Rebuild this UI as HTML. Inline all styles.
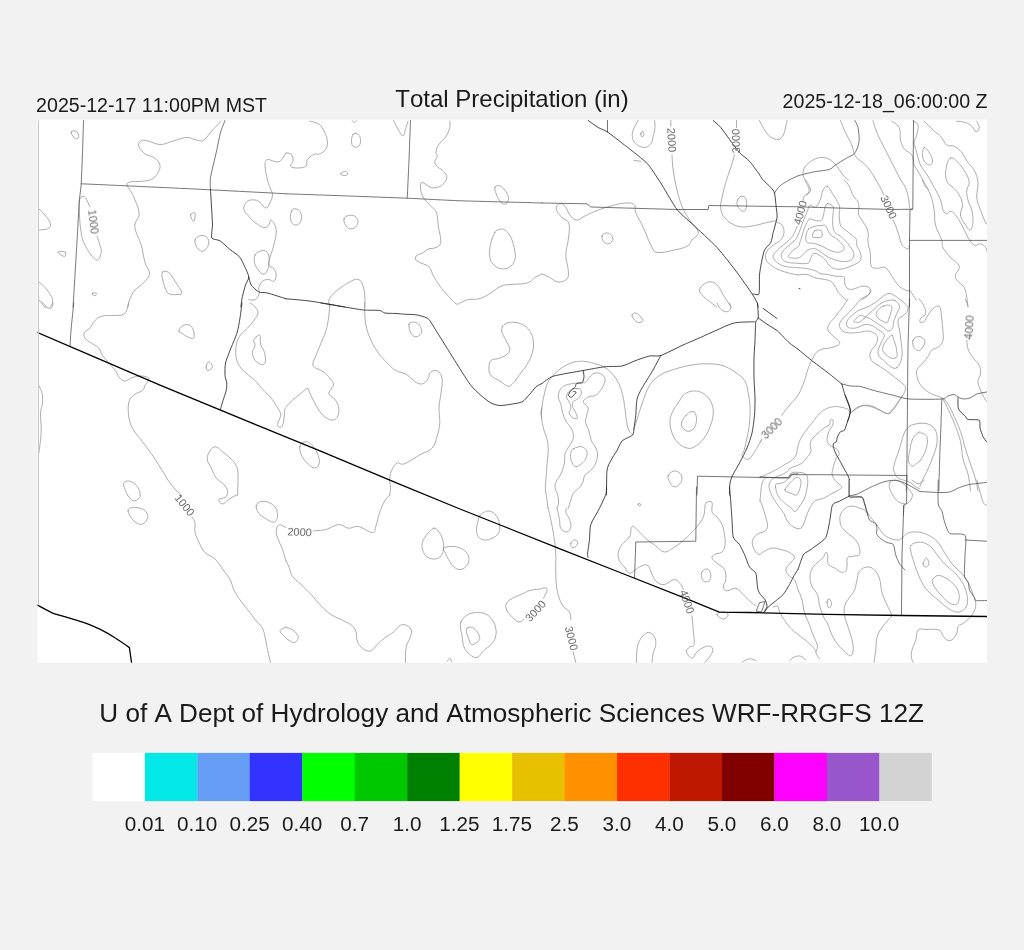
<!DOCTYPE html>
<html><head><meta charset="utf-8">
<style>
html,body{margin:0;padding:0;}
body{width:1024px;height:950px;background:#f2f2f2;overflow:hidden;position:relative;font-family:"Liberation Sans",sans-serif;color:#111;}
#map{position:absolute;left:0;top:0;width:1024px;height:950px;}
</style></head><body>
<svg id="map" width="1024" height="950" viewBox="0 0 1024 950" font-family="Liberation Sans, sans-serif">
<rect x="37.5" y="119.7" width="949.5" height="543" fill="#fff"/>
<defs><clipPath id="mc"><rect x="37.5" y="119.7" width="949.5" height="543"/></clipPath></defs>
<g clip-path="url(#mc)" fill="none" stroke-linejoin="round" stroke-linecap="round">
<path stroke="#8a8a8a" stroke-width="0.7" d="M71.2,132C71.9,131 74.8,130.4 76.2,131.2C77.8,132.1 78.8,134.8 78.8,136.2C78.8,137.8 77.4,138.8 76.2,138.8C75.1,138.8 74,137.6 73,136.2C72,134.9 70.6,133 71.2,132ZM221.2,121.2C219.5,123 216,126.2 212.5,130C209,133.8 207,138 203.8,140C200.5,142 199.8,140.5 196.2,140C192.8,139.5 191,137.2 186.2,137.5C181.5,137.8 177.8,139.8 172.5,141.2C167.2,142.7 165,144.6 160,144.5C155,144.4 151.2,141.5 147.5,140.8C143.8,140 143,139.7 141.2,140.8C139.5,141.8 138,143.7 138.8,146.2C139.5,148.8 142,151.5 145,153.8C148,156 150.8,155.5 153.8,157.5C156.7,159.5 158.5,161 159.5,163.8C160.5,166.5 160.2,168.2 158.8,171.2C157.3,174.2 155.8,176.8 152.5,178.8C149.2,180.8 147,180.6 142.5,181.2C138,181.9 133.1,181.2 130,182C126.9,182.8 127,183.4 127,185C127,186.6 128.4,187 130,190C131.6,193 133.2,195.2 135,200C136.8,204.8 139.2,209 139.2,213.8C139.2,218.5 135.6,220 135,223.8C134.4,227.5 135,228.2 136.2,232.5C137.5,236.8 139.5,239 141.2,245C143,251 143.3,256.8 145,262.5C146.7,268.2 149.8,269.8 149.5,273.8C149.2,277.8 146.7,279.2 143.8,282.5C140.8,285.8 137.8,286.8 135,290C132.2,293.2 131.5,295.4 130,298.8C128.5,302.1 128,305.4 127.5,307M97,236.2C97.6,238 99.2,241.8 100,245C100.8,248.2 101.8,249.5 101.2,252.5C100.8,255.5 99.5,259.5 97.5,260C95.5,260.5 94,258.5 91.2,255C88.5,251.5 85.8,247.5 83.8,242.5C81.7,237.5 81.6,235.5 80.8,230C79.9,224.5 79.8,220.5 79.5,215C79.2,209.5 78.9,206.1 79.2,202.5C79.6,198.9 80,197.9 81.2,197C82.5,196.1 83.8,196 85.5,198C87.2,200 89.1,205.2 90,207M38.8,208.8C40,210 42.6,212 45,215C47.4,218 50,221 50.5,223.8C51,226.5 49.9,227.5 47.5,228.8C45.1,230 40.5,229.8 38.8,230M58.2,252C59,251.4 63.6,251.2 65,252C66.3,252.8 65.8,255.7 65,256.2C64.2,256.9 62.6,255.8 61.2,255C59.9,254.2 57.5,252.6 58.2,252ZM38.8,282C40,283.1 42.5,284.6 45,287.5C47.5,290.4 49.8,293.2 51.2,296.2C52.8,299.2 52.8,300.4 52.5,302.5C52.2,304.6 50.5,306.1 50,307M38.8,300C39.8,300.8 42.2,302.4 43.8,303.8C45.2,305.1 45.8,306.4 46.2,307M92.5,293.2C93.2,292.9 95.7,292.8 96.2,293.2C96.8,293.7 96.2,295.1 95.5,295.5C94.8,295.9 93.6,295.4 93,295C92.4,294.6 91.8,293.6 92.5,293.2ZM190.5,215C190.8,213.3 194.3,211.8 195,213C195.7,214.2 194.7,220.8 193.8,221.2C192.8,221.7 190.2,216.7 190.5,215ZM195,240C195.6,237.7 197.8,236.4 200,235.8C202.2,235.1 204.5,235.4 206.2,236.8C208,238.1 208.8,240.1 208.8,242.5C208.8,244.9 207.6,247 206.2,248.8C204.9,250.5 203.8,251.5 202,251.2C200.2,251 198.4,249.8 197,247.5C195.6,245.2 194.4,242.3 195,240ZM162.5,272C163.8,270.8 166.2,270.6 168.8,272.5C171.2,274.4 172.4,277.2 175,281.2C177.6,285.2 181.2,289.9 181.8,292.5C182.2,295.1 180.1,294.2 177.5,294.5C174.9,294.8 171.2,295.1 168.8,293.8C166.2,292.4 166.2,290.5 165,287.5C163.8,284.5 163,281.9 162.5,278.8C162,275.6 161.2,273.2 162.5,272ZM286,153C284.8,154.7 282.4,159.6 280,161.2C277.6,162.9 276.2,161.6 273.8,161.2C271.2,160.9 269.2,158.8 267.5,159.5C265.8,160.2 265,160.9 265,165C265,169.1 266.5,175.5 267.5,180C268.5,184.5 269,184.5 270,187.5C271,190.5 272.5,192 272.5,195C272.5,198 271.2,199.9 270,202.5C268.8,205.1 268.2,208 266.2,208C264.2,208 262.2,204.1 260,202.5C257.8,200.9 257.5,200.2 255,200C252.5,199.8 249.8,199.5 247.5,201.2C245.2,203 243.5,205.8 243.8,208.8C244,211.8 246.5,213.5 248.8,216.2C251,219 252,220.2 255,222.5C258,224.8 261,227 263.8,227.5C266.5,228 267.2,226.5 268.8,225C270.2,223.5 269.8,219 271.2,220C272.8,221 275.8,225 276.2,230C276.8,235 275,239.5 273.8,245C272.5,250.5 271,253.5 270,257.5C269,261.5 268,262.8 268.8,265C269.5,267.2 272.2,266.8 273.8,268.8C275.2,270.8 276.2,272.5 276.2,275C276.2,277.5 275.2,280.4 273.8,281.2C272.2,282.1 271,279.5 268.8,279.5C266.5,279.5 264.5,279.6 262.5,281.2C260.5,282.9 259.4,285.4 258.8,287.5C258.1,289.6 259.4,291.1 259.5,292M255,255C256.1,252.8 257.8,252 260,251.2C262.2,250.5 264.4,249.8 266.2,251.2C268.1,252.8 269,255 269.2,258.8C269.5,262.5 268.8,266.9 267.5,270C266.2,273.1 265,274.5 263,274.2C261,274 259.2,271.1 257.5,268.8C255.8,266.4 255,265.2 254.5,262.5C254,259.8 253.9,257.2 255,255ZM248.8,299.5C249.8,299.6 252,300.4 253.8,300C255.5,299.6 256.4,299 257.5,297.5C258.6,296 259.1,293.5 259.5,292.5M309.8,121.2C311.5,121.8 315.8,122 318.5,123.8C321.2,125.5 321.8,126.8 323.5,130C325.2,133.2 326.8,136.2 327.2,140C327.8,143.8 327.5,146 326,148.8C324.5,151.5 322.2,152.6 319.8,153.8C317.2,154.9 316,153.2 313.5,154.5C311,155.8 308.8,157.7 307.2,160C305.8,162.3 308,164.7 306,166.2C304,167.8 300.4,168 297.2,168C294.1,168 291.4,167.6 290.5,166.2C289.6,164.9 292.8,163.6 293,161.2C293.2,158.9 292.9,156.2 291.5,154.5C290.1,152.8 287.1,153.3 286,153M352.2,120.5C352.6,120.9 353.4,122.5 354.2,122.5C355.1,122.5 356.2,120.9 356.8,120.5M353,134.5C354.1,133 355.8,132.9 357.2,133.8C358.8,134.6 360.1,136.4 360.5,138.8C360.9,141.1 360.6,143.9 359.2,145.5C357.9,147.1 355.1,147.6 353.5,146.8C351.9,145.9 351.6,143.7 351.5,141.2C351.4,138.8 351.9,136 353,134.5ZM340.5,173.8C340.8,172.9 344.1,171.2 345.5,171.2C346.9,171.3 348.1,173.4 347.8,174.2C347.4,175.1 345.4,175.6 344,175.5C342.6,175.4 340.2,174.6 340.5,173.8ZM393.5,120.5C394.5,122.4 396.6,127 398.5,130C400.4,133.1 401.5,136.2 403,135.8C404.5,135.2 405,130.4 406,127.5C407,124.6 407.6,122.5 408,121.2M449.8,121.2C449.8,122.5 450.5,124.5 449.8,127.5C449,130.5 448.2,132.8 446,136.2C443.8,139.8 440.5,141.8 438.5,145C436.5,148.2 436.2,150.2 436,152.5C435.8,154.8 437.5,154.2 437.2,156.2C437,158.2 434.5,160.2 434.8,162.5C435,164.8 436.8,165.8 438.5,167.5C440.2,169.2 441.9,169.2 443.5,171.2C445.1,173.2 446.8,175 446.8,177.5C446.8,180 445.1,181.8 443.5,183.8C441.9,185.7 441,186.2 438.5,187C436,187.8 434.2,188.4 431,187.5C427.8,186.6 424.4,182.5 422.2,182.5C420.1,182.5 420.5,185 420.5,187.5C420.5,190 421.1,192.2 422.2,195C423.4,197.8 423.8,198.5 426,201.2C428.2,204 431.4,206.2 433.5,208.8C435.6,211.2 435.8,210 436.8,213.8C437.8,217.5 437.8,222.8 438.5,227.5C439.2,232.2 440.2,234 440.5,237.5C440.8,241 441.1,242.8 439.8,245C438.4,247.2 435.8,247.5 433.5,248.2C431.2,249 430.8,247.8 428.5,248.8C426.2,249.8 424.5,252 422.2,253.2C420,254.5 418.6,253.8 417.2,255C415.9,256.2 415,257.8 415.5,259.2C416,260.8 417.6,261.4 419.8,262.5C421.9,263.6 423.9,263.8 426,265C428.1,266.2 429,266.5 430.5,268.8C432,271 431.4,272.5 433.5,276.2C435.6,280 438,283.5 441,287.5C444,291.5 445.5,293 448.5,296.2C451.5,299.5 453.5,302.5 456,303.8C458.5,305 458.5,303.4 461,302.5C463.5,301.6 465,300.2 468.5,299.5C472,298.8 474.5,299.8 478.5,298.8C482.5,297.8 484,297 488.5,294.5C493,292 496.5,288.2 501,286.2C505.5,284.2 505.8,285.1 511,284.5C516.2,283.9 522.5,284.4 527.2,283C532,281.6 531.8,279.2 534.8,277.5C537.7,275.8 540.5,274.9 542,274.2M494.8,187.5C495.2,185.4 497.8,185.2 499.8,185.8C501.8,186.2 503,187.7 504.8,190C506.5,192.3 508.2,194.8 508.5,197.5C508.8,200.2 507.5,202.8 506,203.8C504.5,204.8 502.8,204 501,202.5C499.2,201 498.5,199.2 497.2,196.2C496,193.2 494.2,189.6 494.8,187.5ZM291.5,211.2C292.4,209.2 293.1,208.8 294.8,208.8C296.4,208.8 298.4,209.5 299.8,211.2C301.1,213 301.6,215 301.5,217.5C301.4,220 300.6,222.3 299,223.8C297.4,225.2 295.2,225.5 293.5,224.5C291.8,223.5 290.9,221.4 290.5,218.8C290.1,216.1 290.6,213.2 291.5,211.2ZM344,218.8C344.6,216.8 346.4,216 348.5,215.5C350.6,215 352.9,215.1 354.8,216.2C356.6,217.4 357.9,219.1 358,221.2C358.1,223.4 357.1,225.5 355.5,227C353.9,228.5 351.8,229.2 349.8,228.8C347.8,228.3 346.6,227 345.5,225C344.4,223 343.4,220.7 344,218.8ZM494.8,232.5C496.6,229.4 497.8,230 499.8,229.5C501.8,229 502.5,228.4 504.8,230C507,231.6 509,233.2 511,237.5C513,241.8 514,246.8 514.8,251.2C515.5,255.8 515.8,256.9 514.8,260C513.8,263.1 512.2,265.2 509.8,267C507.2,268.8 505.2,269 502.2,268.8C499.2,268.5 497.2,268 494.8,265.8C492.2,263.5 490.6,261.6 489.8,257.5C488.9,253.3 489.5,250 490.5,245C491.5,240 492.9,235.6 494.8,232.5ZM329.8,307C329.6,305.6 328.2,302.6 329,300C329.8,297.4 331.1,296.2 333.5,293.8C335.9,291.2 337.8,289.9 341,287.5C344.2,285.1 346.5,283.6 349.8,282C353,280.4 354.8,278.9 357.2,279.2C359.8,279.6 360.8,280.6 362.2,283.8C363.8,286.9 364.2,290.4 364.8,295C365.2,299.6 364.8,304.6 364.8,307M602,236.2C602.4,234.4 604,233.3 605.8,233C607.5,232.7 609.4,233.2 610.8,234.5C612.1,235.8 613.1,237.7 612.8,239.5C612.4,241.3 610.8,243.2 609,243.8C607.2,244.2 605.4,243.5 604,242C602.6,240.5 601.6,238.1 602,236.2ZM638.2,120.5C637.2,122.4 634.4,126.6 633.2,130C632.1,133.4 632,134.8 632.5,137.5C633,140.2 633.4,141.8 635.8,143.8C638.1,145.8 641.5,147.5 644.5,147.5C647.5,147.5 649,146 650.8,143.8C652.5,141.5 652.4,139.5 653.2,136.2C654.1,133 654.8,130.7 655,127.5C655.2,124.3 654.6,121.9 654.5,120.5M640.8,133.8C640.9,132.6 641.9,131.1 642.5,131.2C643.1,131.4 643.9,133.3 643.8,134.5C643.6,135.7 642.6,137.2 642,137C641.4,136.8 640.6,134.9 640.8,133.8ZM634,160.5L640.8,161.2M670.8,120.5L670.8,126.2M672,155C672.2,158 672.2,163 673.2,170C674.2,177 675.2,182.8 677,190C678.8,197.2 679.5,200.2 682,206.2C684.5,212.2 686.2,214.8 689.5,220C692.8,225.2 697.8,228 698.2,232C698.8,236 694.2,237.2 692,240C689.8,242.8 690.5,244.2 687,246.2C683.5,248.2 680.2,248.8 674.5,250C668.8,251.2 662.8,253 658.2,252.5C653.8,252 655,252.5 652,247.5C649,242.5 646.5,234.5 643.2,227.5C640,220.5 637.5,217 635.8,212.5C634,208 636.2,206.9 634.5,205C632.8,203.1 631,203 627,203C623,203 620.5,203.5 614.5,205C608.5,206.5 603,208.2 597,210.5C591,212.8 588.5,214.3 584.5,216.2C580.5,218.2 579.8,220 577,220C574.2,220 573,218.8 570.8,216.2C568.5,213.8 567.5,210 565.8,207.5C564,205 563.6,204.2 562,203.8C560.4,203.2 558.6,203.8 557.5,205C556.4,206.2 555.6,207.5 556.5,210C557.4,212.5 559.5,214.8 562,217.5C564.5,220.2 567.8,219.2 569,223.8C570.2,228.2 568.9,233.8 568.2,240C567.6,246.2 565.8,249 565.8,255C565.8,261 568,265.2 568.2,270C568.5,274.8 569,276.4 567,278.8C565,281.1 561.8,282.2 558.2,282C554.8,281.8 552.8,279.1 549.5,277.5C546.2,275.9 543.5,274.5 542,273.8M736.5,120.5L736.5,127.5M734.5,155C733.8,157.5 732.5,162 730.8,167.5C729,173 727.5,176.5 725.8,182.5C724,188.5 723,192.2 722,197.5C721,202.8 720.2,204.8 720.8,208.8C721.2,212.8 722.2,214.5 724.5,217.5C726.8,220.5 728.5,221.8 732,223.8C735.5,225.7 737.5,226.7 742,227C746.5,227.3 749.5,226.4 754.5,225.5C759.5,224.6 762.5,223.5 767,222.5C771.5,221.5 775,220.9 777,220.5M738.2,198.8C739.2,197.2 740.5,196.2 742,196.2C743.5,196.2 744.9,196.8 745.8,198.8C746.6,200.8 746.9,203.8 746.5,206.2C746.1,208.8 745.4,210.8 744,211.2C742.6,211.8 740.9,210.2 739.5,208.8C738.1,207.2 737.2,205.8 737,203.8C736.8,201.8 737.2,200.2 738.2,198.8ZM759.5,120.5C760.5,122.4 762.2,126.7 764.5,130C766.8,133.3 768,135.1 770.8,137C773.5,138.9 775.8,139.9 778.2,139.5C780.8,139.1 781.8,137.7 783.2,135C784.8,132.3 785,129.2 785.8,126.2C786.5,123.3 786.8,121.7 787,120.5M730.8,307C730.2,306.1 729.8,304.9 728.2,302.5C726.8,300.1 725.2,298.2 723.2,295C721.2,291.8 720.5,288.9 718.2,286.2C716,283.6 714.8,282.5 712,282C709.2,281.5 707,282.1 704.5,283.8C702,285.4 699.8,287.5 699.5,290C699.2,292.5 701,293.8 703.2,296.2C705.5,298.8 708,300.4 710.8,302.5C713.5,304.6 715.8,306.1 717,307M777,222.5C778,223 780.6,223 782,225C783.4,227 784.2,229.5 784,232.5C783.8,235.5 782.9,237.5 780.8,240C778.6,242.5 776,242.8 773.2,245C770.5,247.2 768.5,248.5 767,251.2C765.5,254 765,256 765.8,258.8C766.5,261.5 768,262.8 770.8,265C773.5,267.2 775.8,268.4 779.5,270C783.2,271.6 785.8,272.2 789.5,273.2C793.2,274.2 796.3,274.6 798,275M814.5,231C816.1,230 819.4,229.4 820.9,230.5C822.3,231.6 823.1,235.2 821.7,236.6C820.3,238 815.6,237.6 813.8,237.4C811.9,237.2 812.4,236.9 812.5,235.6C812.7,234.3 812.8,232.1 814.5,231ZM808.7,229C810.1,227.8 811.3,227.2 813.8,226.5C816.2,225.8 818.5,225.6 820.9,225.5C823.2,225.3 824,224.6 825.4,225.7C826.9,226.7 826.9,228.6 828,230.5C829.1,232.4 829.2,233.4 831,235.1C832.9,236.8 834.9,237.3 837.1,239.2C839.4,241 840.8,242.3 842.2,244.2C843.6,246.2 844.4,247.4 844.2,248.8C844,250.2 842.6,250.7 841.2,251.4C839.8,252 839.2,252.3 837.1,252.2C835.1,252.1 833.5,251.7 831,250.8C828.6,250 827.4,249 824.9,247.8C822.5,246.6 821.3,245.7 818.8,244.8C816.4,243.8 815,243.6 812.8,243.2C810.5,242.8 809.1,243.6 807.7,242.7C806.3,241.8 806,240.7 805.8,238.7C805.6,236.6 806.1,234.5 806.7,232.6C807.2,230.6 807.3,230.2 808.7,229ZM827.5,203.6C825.9,203.8 825.6,205.8 824.9,207.7C824.2,209.6 824.4,211 823.9,213.3C823.4,215.5 823.2,217.3 822.4,218.9C821.6,220.4 821.4,220.6 819.9,220.9C818.3,221.2 816.8,220.8 814.8,220.4C812.8,220 811.1,218.6 809.7,218.9C808.3,219.1 808.7,219.7 807.7,221.4C806.7,223.1 805.7,224.6 804.6,227.5C803.5,230.3 803,232.8 802.1,235.6C801.2,238.5 800.8,239.6 800.1,241.7C799.3,243.8 799.9,244.6 798.5,246.3C797.2,247.9 795.3,248.2 793.5,249.8C791.6,251.5 790.4,253 789.4,254.4C788.4,255.8 788,256.2 788.4,256.9C788.8,257.6 789.4,257.8 791.4,258C793.5,258.1 796.3,258.4 798.5,257.8C800.8,257.1 801,256.3 802.6,254.9C804.2,253.5 804.8,252.1 806.7,250.8C808.5,249.6 809.9,249.2 811.7,248.8C813.6,248.4 814,248.4 815.8,249C817.6,249.6 818.8,250.5 820.9,251.9C822.9,253.2 823.9,254.6 826,255.9C828,257.2 828.8,257.5 831,258.5C833.3,259.4 834.5,259.9 837.1,260.5C839.8,261.1 841.6,261.5 844.2,261.5C846.9,261.5 848.5,261.4 850.3,260.5C852.2,259.6 852.8,258.6 853.4,256.9C854,255.3 854,254.4 853.4,252.4C852.8,250.3 852,249.1 850.3,246.8C848.7,244.4 847.3,242.8 845.3,240.7C843.2,238.6 842.2,237.7 840.2,236.1C838.1,234.5 836.5,234.3 835.1,232.6C833.7,230.8 833.6,229.9 833.1,227.5C832.6,225 832.6,223.2 832.6,220.4C832.6,217.5 833,216 833.1,213.3C833.2,210.5 834.2,208.6 833.1,206.7C831.9,204.7 829.1,203.4 827.5,203.6ZM827.4,186.2C825.2,185.3 823.9,189 822.7,190.9C821.5,192.9 822.1,193.9 821.4,196C820.7,198.1 820.6,199.3 819.4,201.6C818.1,203.9 817.1,206.7 815.3,207.4C813.5,208.1 811.7,204.6 810.2,205.1C808.7,205.7 808.6,208.2 807.7,210.2C806.8,212.3 806.6,213.1 805.6,215.3C804.7,217.5 804.1,218.8 803.1,221.4C802.1,224 801.7,225.6 800.6,228.5C799.4,231.4 798.7,233.7 797.5,236.1C796.3,238.6 796.3,238.8 794.5,240.7C792.6,242.6 790.6,243.7 788.4,245.8C786.1,247.8 784.7,248.9 783.3,250.8C781.9,252.8 781.5,253.8 781.3,255.4C781.1,257 781.3,257.6 782.3,259C783.3,260.3 783.9,261.2 786.3,262C788.8,262.8 790.2,262.8 794.5,263C798.7,263.3 804.4,264.3 807.7,263.2C810.9,262.2 809.5,259.9 810.7,258C811.9,256 812.1,254 813.8,253.4C815.4,252.8 816.6,253.7 818.8,254.9C821.1,256.1 822.9,257.4 824.9,259.5C827,261.5 827.2,263.2 829,265.1C830.8,266.9 831.6,267.8 834.1,268.6C836.5,269.4 838.3,269.4 841.2,269.1C844,268.8 845.5,268.1 848.3,267.1C851.1,266.1 853.1,265.3 855.4,264C857.7,262.8 858.9,262.6 860,261C861.1,259.4 861.1,258 861,255.9C860.9,253.9 860.3,252.9 859.5,250.8C858.7,248.8 857.5,248 856.9,245.8C856.3,243.5 857.3,241.7 856.4,239.7C855.5,237.6 854.4,237.4 852.4,235.6C850.3,233.8 848.5,232.4 846.3,230.5C844,228.7 842.5,228.3 841.2,226.5C839.9,224.6 840.1,223.8 839.7,221.4C839.3,219 839.2,217.1 839.2,214.3C839.2,211.4 840.1,209.8 839.7,207.2C839.3,204.5 838.2,203.3 837.1,201.1C836,198.8 834.8,197.1 834.1,196C833.4,194.9 834.9,197.5 833.6,195.6C832.2,193.6 829.5,187.2 827.4,186.2ZM797,226.5C796.3,228.1 795,232 793.5,234.6C791.9,237.2 791.6,237.4 789.4,239.7C787.2,241.9 784.9,243.4 782.3,245.8C779.6,248.1 778,249.3 776.2,251.4C774.4,253.4 773.4,254.2 773.1,255.9C772.8,257.6 773.4,258.4 774.7,260C775.9,261.6 776.9,262.7 779.2,264C781.6,265.4 782.9,265.9 786.3,266.6C789.8,267.3 792.4,267.2 796.5,267.6C800.6,268 803,268 806.7,268.6C810.3,269.2 811.9,269.6 814.8,270.6C817.6,271.7 819.7,273.3 820.9,274M798,275C799.8,274.9 803.7,274 807.1,274.5C810.4,275.1 810.8,276.6 814.9,277.7C818.9,278.8 823.9,279.1 827.4,280C830.8,280.9 830.3,280.8 832.1,282.3C833.8,283.9 834.7,285.8 836,287.8C837.2,289.8 836.9,290.6 838.3,292.5C839.7,294.4 841.4,295.7 843,297.2C844.6,298.7 845.5,299.4 846.1,300M820.8,273.9C822.1,274 824.5,274.1 827.4,274.5C830.2,275 831.9,275.6 835.2,276.1C838.5,276.6 841.9,275.8 843.8,276.9C845.7,278 844.1,279.5 844.6,281.6C845,283.6 844.9,285.5 846.1,287C847.4,288.6 848.6,289.2 850.8,289.4C853,289.5 854.9,288.4 857.1,287.8C859.2,287.2 859.6,286.4 861.8,286.2C863.9,286.1 866.3,286.2 868,287C869.7,287.8 870.3,288.4 870.3,290.2C870.3,291.9 869.7,293.8 868,295.6C866.3,297.5 863,298.8 861.8,299.5M802.7,201.1C803.1,200 803.2,197.5 804.7,195.6C806.2,193.8 809.2,193.6 810.2,191.7C811.1,189.8 810.3,188.6 809.4,186.2C808.5,183.9 806.3,181.2 805.5,180M844.6,180C845.5,181.2 847.5,183.1 849.2,186.2C851,189.4 851.3,192.2 853.2,195.6C855,199.1 857.5,199.7 858.6,203.4C859.7,207.2 857.7,210.6 858.6,214.4C859.6,218.1 861.4,218.8 863.3,222.2C865.2,225.6 867.1,227.5 868,231.6C868.9,235.6 867.5,238.1 868,242.5C868.5,246.9 869.7,248.8 870.3,253.4C871,258.1 869.7,263 871.1,265.9C872.5,268.9 874.6,268 877.4,268.3C880.2,268.6 882.4,266.1 885.2,267.5C888,268.9 888.9,271.9 891.4,275.3C893.9,278.8 895.2,281.9 897.7,284.7C900.2,287.5 901.6,288.1 903.9,289.4C906.3,290.6 908.3,290.6 909.4,290.9M875.8,180C876.8,181.6 878.9,184.8 880.5,187.8C882.1,190.8 883,193.4 883.6,194.8M893,219.8C893.6,221.2 894.9,223.6 896.1,226.9C897.4,230.2 898.2,232.8 899.2,236.2C900.3,239.7 900.3,241.7 901.6,244.1C902.8,246.4 904.1,247 905.5,248C906.9,248.9 907.8,249.2 908.6,248.8C909.4,248.3 909.2,246.2 909.4,245.6M900.8,180C901.8,181.6 903.9,184.1 905.5,187.8C907.1,191.6 907.8,194.7 908.6,198.8C909.4,202.8 909.2,206.2 909.4,208.1M909.4,289.4C910.2,290.6 911.9,293.5 913.3,295.6C914.7,297.8 915.8,299.1 916.4,300M922.7,180C923,180.9 923.2,182.8 924.2,184.7C925.3,186.6 927.2,188.4 928,189.4M806.8,195C807.2,194 809.5,192.8 809.2,190C809,187.2 806.8,184.5 805.5,181.2C804.2,178 803,176.8 803,173.8C803,170.8 803.5,169 805.5,166.2C807.5,163.5 809.8,161.8 813,160C816.2,158.2 818.2,157.5 821.8,157.5C825.2,157.5 827.5,158.2 830.5,160C833.5,161.8 834.2,163.2 836.8,166.2C839.2,169.2 840.6,172.2 843,175C845.4,177.8 847.4,179 848.5,180M840.5,120.5C841.5,122.9 843.2,127.6 845.5,132.5C847.8,137.4 849.8,140.2 851.8,145C853.8,149.8 852.8,152.2 855.5,156.2C858.2,160.2 862,161.2 865.5,165C869,168.8 871,172 873,175C875,178 875.2,179 875.8,180M873,120.5C873.8,122.9 874.5,127.1 876.8,132.5C879,137.9 881,141 884.2,147.5C887.5,154 889.7,158.5 893,165C896.3,171.5 899.2,177 900.8,180M891.8,121.2C893.2,122.5 897.5,123.8 899.2,127.5C901,131.2 899.5,135.8 900.5,140C901.5,144.2 902,145.8 904.2,148.8C906.5,151.8 909.8,151.8 911.8,155C913.8,158.2 913,161.8 914.2,165C915.5,168.2 916,167.8 918,171.2C920,174.8 921.8,177.8 924.2,182.5C926.8,187.2 928.5,189.5 930.5,195C932.5,200.5 933.2,204 934.2,210C935.2,216 934,219 935.5,225C937,231 940.2,235.5 941.8,240C943.2,244.5 941.2,244 943,247.5C944.8,251 947.2,253.8 950.5,257.5C953.8,261.2 958.2,262.8 959.2,266.2C960.2,269.8 956,272.2 955.5,275C955,277.8 955,277.5 956.8,280C958.5,282.5 962.2,284 964.2,287.5C966.2,291 966,293.6 966.8,297.5C967.5,301.4 967.8,305.1 968,307M913,121.2C914,122 917.2,122.2 918,125C918.8,127.8 917.5,131.5 916.8,135C916,138.5 914.2,139 914.2,142.5C914.2,146 915.5,148 916.8,152.5C918,157 918.2,160.2 920.5,165C922.8,169.8 925.2,171.8 928,176.2C930.8,180.8 931.8,182.8 934.2,187.5C936.8,192.2 938.8,195.5 940.5,200C942.2,204.5 941.8,207.2 943,210C944.2,212.8 945.2,213.5 946.8,213.8C948.2,214 948.8,211 950.5,211.2C952.2,211.5 953.2,212.2 955.5,215C957.8,217.8 959.2,220.5 961.8,225C964.2,229.5 965.5,233.5 968,237.5C970.5,241.5 971.8,243.8 974.2,245C976.8,246.2 978.2,243.2 980.5,243.8C982.8,244.2 984.2,246 985.5,247.5C986.8,249 986.5,250.5 986.8,251.2M924.2,121.2C926,123 929.8,127 933,130C936.2,133 937.8,133.2 940.5,136.2C943.2,139.2 944,143 946.8,145C949.5,147 951.2,144.8 954.2,146.2C957.2,147.8 959,149.2 961.8,152.5C964.5,155.8 965.5,159 968,162.5C970.5,166 972.2,166 974.2,170C976.2,174 977.5,177 978,182.5C978.5,188 976.2,192 976.8,197.5C977.2,203 978.8,205 980.5,210C982.2,215 984.2,219.8 985.5,222.5C986.8,225.2 986.5,223.5 986.8,223.8M956.8,121.2C958.5,121.5 962.5,121.5 965.5,122.5C968.5,123.5 969.6,124.4 971.8,126.2C973.9,128.1 974.5,131.5 976,131.8C977.5,132 979.1,129.6 979.2,127.5C979.4,125.4 977.2,122.5 976.8,121.2M924.2,147.5C925.6,146.8 927.6,150 929.2,152.5C930.9,155 932.2,157.5 932.5,160C932.8,162.5 931.9,164.5 930.5,165C929.1,165.5 927.1,164.2 925.5,162.5C923.9,160.8 922.8,159.2 922.5,156.2C922.2,153.2 922.9,148.2 924.2,147.5ZM950.5,158C952.9,156.8 955,159.6 958,162.5C961,165.4 963.2,168.5 965.5,172.5C967.8,176.5 969,179 969.2,182.5C969.5,186 967,186.5 966.8,190C966.5,193.5 967,196 968,200C969,204 970.8,205.8 971.8,210C972.8,214.2 973.2,217.2 973,221.2C972.8,225.2 972,229.2 970.5,230C969,230.8 967.5,228 965.5,225C963.5,222 961.1,219 960.5,215C959.9,211 962.8,209 962.5,205C962.2,201 961.1,198.5 959.2,195C957.4,191.5 955.5,190.2 953,187.5C950.5,184.8 948.1,185 946.8,181.2C945.4,177.5 945.2,173.4 946,168.8C946.8,164.1 948.1,159.2 950.5,158ZM41.2,303C42,303.8 43,305.8 45,306.8C47,307.8 49.6,308.8 51.2,308C52.9,307.2 52.6,304 53,303M128.8,303C128.5,304 128.5,305.8 127.5,308C126.5,310.2 126.2,312.8 123.8,314.2C121.2,315.8 119.2,315.1 115,315.5C110.8,315.9 106.5,315 102.5,316C98.5,317 97.5,318.1 95,320.5C92.5,322.9 92.1,325.6 90,328C87.9,330.4 85.5,330.5 84.5,332.5C83.5,334.5 83.7,335.9 85,338C86.3,340.1 88.5,341 91.2,343C94,345 96.5,345.5 98.8,348C101,350.5 100.2,352.2 102.5,355.5C104.8,358.8 107.2,361 110,364.2C112.8,367.5 114.5,369.2 116.2,371.8C118,374.2 117.1,374.9 118.8,376.8C120.4,378.6 121.8,380.9 124.5,381C127.2,381.1 129.4,378.5 132.5,377.5C135.6,376.5 137.2,376.1 140,376C142.8,375.9 144.5,376.1 146.2,376.8C148,377.4 149,377.5 148.8,379.2C148.5,381 146.2,383.2 145,385.5C143.8,387.8 144.5,388.8 142.5,390.5C140.5,392.2 137.5,392.5 135,394.2C132.5,396 131.3,396.5 130,399.2C128.7,402 128.3,403.8 128.2,408C128.2,412.2 128.4,416 129.5,420.5C130.6,425 131.2,426.2 133.8,430.5C136.3,434.8 139.2,437.5 142.5,441.8C145.8,446 147,447.5 150,451.8C153,456 154.8,458.8 157.5,463C160.2,467.2 161.2,469 163.8,473C166.2,477 167.2,479.2 170,483C172.8,486.8 175.2,489.4 177.5,491.8C179.8,494.1 180.5,494.4 181.2,495M178.8,331C178.8,329.5 180.5,327.2 182.5,326C184.5,324.8 186.7,324.1 188.8,324.8C190.8,325.4 192,326.6 193,329.2C194,331.9 194.8,336.5 193.8,338C192.7,339.5 189.8,337.6 187.5,336.8C185.2,335.9 184.2,334.6 182.5,333.5C180.8,332.4 178.8,332.5 178.8,331ZM206.2,366.8C206.4,365 207.5,361.8 208.8,361.8C210,361.8 212.7,365 212.5,366.8C212.3,368.5 209.2,370.5 208,370.5C206.8,370.5 206.1,368.5 206.2,366.8ZM250,303C251,303.8 253.4,304.8 255,306.8C256.6,308.8 258.2,310.2 258,313C257.8,315.8 255.8,317.5 253.8,320.5C251.7,323.5 250.2,325 247.5,328C244.8,331 242.2,332 240,335.5C237.8,339 237,341 236.2,345.5C235.5,350 235.5,353.8 236.2,358C237,362.2 237.8,363.5 240,366.8C242.2,370 244.5,371.5 247.5,374.2C250.5,377 252,377.5 255,380.5C258,383.5 259.5,386 262.5,389.2C265.5,392.5 267.2,393.5 270,396.8C272.8,400 274.1,402 276.2,405.5C278.4,409 280.2,411.2 280.8,414.2C281.2,417.2 279.4,418.2 278.8,420.5C278.1,422.8 277,424.1 277.5,425.5C278,426.9 280,428.2 281.2,427.2C282.5,426.2 283.1,423.9 283.8,420.5C284.4,417.1 284.1,413 284.5,410.5C284.9,408 285.7,408.5 286,408M256.2,336.8C257.5,335.8 259.1,334 260,335.5C260.9,337 259.8,341.2 260.5,344.2C261.2,347.2 262.8,347.5 263.8,350.5C264.8,353.5 265.5,356.5 265.5,359.2C265.5,362 265.2,363.5 263.8,364.2C262.2,365 260,364.2 258,363C256,361.8 254.8,360.2 253.8,358C252.7,355.8 252.2,354.2 252.5,351.8C252.8,349.2 254.8,347.8 255,345.5C255.2,343.2 253.5,342.2 253.8,340.5C254,338.8 255,337.8 256.2,336.8ZM38.8,385.5C39.4,387 41.2,389.5 42,393C42.8,396.5 42.8,399 42.5,403C42.2,407 40.8,408 40.5,413C40.2,418 41.2,422.5 41.2,428C41.2,433.5 41,435.5 40.5,440.5C40,445.5 39.1,450.5 38.8,453M237.5,495C237.6,491.1 238.2,481.4 238,475.5C237.8,469.6 237.8,469 236.2,465.5C234.7,462 232.8,460.8 230,458C227.2,455.2 225.5,454 222.5,451.8C219.5,449.5 217.8,446.5 215,446.8C212.2,447 210.2,450.2 208.8,453C207.2,455.8 207,457.5 207.5,460.5C208,463.5 209.5,464.5 211.2,468C213,471.5 213.8,474.8 216.2,478C218.8,481.2 221.5,481.8 223.8,484.2C226,486.8 226.8,488.4 227.5,490.5C228.2,492.6 227.1,494.1 227,495M140,495C139.9,494.1 140.5,492.6 139.5,490.5C138.5,488.4 137.2,486.1 135,484.2C132.8,482.4 131,481.2 128.8,481C126.5,480.8 124.5,481.4 123.8,483C123,484.6 124.2,486.9 125,489.2C125.8,491.6 127,493.9 127.5,495M329.8,305.5C329.5,308 329.2,313 328.5,318C327.8,323 327.5,325.5 326,330.5C324.5,335.5 323,338 321,343C319,348 317.6,351.5 316,355.5C314.4,359.5 313.2,360.6 313,363C312.8,365.4 312.6,365.8 314.8,367.5C316.9,369.2 320.5,369.6 323.5,371.8C326.5,373.9 327.8,375.5 329.8,378C331.8,380.5 333.2,382 333.5,384.2C333.8,386.5 331.9,387.2 331,389.2C330.1,391.2 328.2,392.2 329,394.2C329.8,396.2 332.9,396.8 334.8,399.2C336.6,401.8 337.9,403.5 338.5,406.8C339.1,410 339,412.9 338,415.5C337,418.1 335.6,419.4 333.5,420C331.4,420.6 329.8,419.9 327.2,418.5C324.8,417.1 323.5,416.1 321,413C318.5,409.9 317,407 314.8,403C312.5,399 311.2,395.9 309.8,393C308.2,390.1 309.2,388.2 307.2,388.5C305.2,388.8 302.8,391.9 299.8,394.2C296.8,396.6 295,398 292.2,400.5C289.5,403 287.2,405.5 286,406.8M364.8,303C364.8,305 364.5,308.5 364.8,313C365,317.5 364.8,320 366,325.5C367.2,331 368.5,335 371,340.5C373.5,346 375,348.2 378.5,353C382,357.8 385,360.8 388.5,364.2C392,367.8 392.5,368.5 396,370.5C399.5,372.5 402.8,372.5 406,374.2C409.2,376 410,377.5 412.2,379.2C414.5,381 415,382.1 417.2,383C419.5,383.9 421.2,384.5 423.5,383.5C425.8,382.5 427.2,380.1 428.5,378C429.8,375.9 428.5,374.5 429.8,373C431,371.5 432.8,370.5 434.8,370.5C436.8,370.5 438.2,371 439.8,373C441.2,375 442,376.5 442.2,380.5C442.5,384.5 441.6,387.5 441,393C440.4,398.5 439.2,402 439,408C438.8,414 440.1,417.5 439.8,423C439.4,428.5 438.8,430.5 437.2,435.5C435.8,440.5 435.5,444.2 432.2,448C429,451.8 425.8,451.5 421,454.2C416.2,457 412.2,459.8 408.5,461.8C404.8,463.8 404.5,464 402.2,464.2C400,464.5 399.2,462 397.2,463C395.2,464 393.8,466.2 392.2,469.2C390.8,472.2 390.1,474.2 389.8,478C389.4,481.8 390.5,484.6 390.5,488C390.5,491.4 389.9,493.6 389.8,495M409,324.2C409.4,322.2 410.6,322.5 412.2,322.2C413.9,322 415.5,321.9 417.2,323C419,324.1 420.2,325.9 421,328C421.8,330.1 422.1,331.8 421,333.5C419.9,335.2 417.6,336.9 415.5,336.8C413.4,336.6 411.8,335 410.5,332.5C409.2,330 408.6,326.3 409,324.2ZM502.2,326.8C503.2,324.8 504.5,323.9 507.2,323C510,322.1 512.5,321.9 516,322.5C519.5,323.1 521.8,323.9 524.8,326C527.8,328.1 529.2,329.6 531,333C532.8,336.4 533.2,339 533.5,343C533.8,347 533.5,348.8 532.2,353C531,357.2 529.8,360 527.2,364.2C524.8,368.5 522.8,370.2 519.8,374.2C516.8,378.2 514.8,381.9 512.2,384.2C509.8,386.6 509.5,386.5 507.2,386C505,385.5 504.2,383.9 501,381.8C497.8,379.6 493.4,378.2 491,375.5C488.6,372.8 489,371 489,368C489,365 489.1,362.4 491,360.5C492.9,358.6 495.5,359.6 498.5,358.5C501.5,357.4 503.8,356.9 506,355C508.2,353.1 509.8,352.1 509.8,349.2C509.8,346.4 507.5,343.8 506,340.5C504.5,337.2 503,335.8 502.2,333C501.5,330.2 501.2,328.8 502.2,326.8ZM299.8,446.8C300.2,443.8 302.5,442.2 304.8,441.8C307,441.2 308.5,442 311,444.2C313.5,446.5 315.6,449.2 317.2,453C318.9,456.8 319.8,460 319.2,463C318.8,466 316.9,467.8 314.8,468C312.6,468.2 311,466.5 308.5,464.2C306,462 304,460.2 302.2,456.8C300.5,453.2 299.2,449.8 299.8,446.8ZM542,408C541.8,409 540.8,411 540.8,413C540.8,415 541.8,417 542,418M717,303C717.8,304.2 718.8,307.5 720.8,309.2C722.8,311 725,312 727,311.8C729,311.5 730.2,309.8 730.8,308C731.2,306.2 729.8,304 729.5,303M632,315C632.4,313.8 634,312.6 635.8,313C637.5,313.4 639.4,315.1 640.8,316.8C642.1,318.4 643.2,319.9 642.8,321C642.2,322.1 640,322.9 638.2,322.5C636.5,322.1 635.2,320.8 634,319.2C632.8,317.8 631.6,316.2 632,315ZM634,429.2C634.9,426.5 636.4,421.2 638.2,415.5C640.1,409.8 641,406.5 643.2,400.5C645.5,394.5 646.2,390.5 649.5,385.5C652.8,380.5 654.5,378.8 659.5,375.5C664.5,372.2 668,371.4 674.5,369.2C681,367.1 685.5,366.1 692,365C698.5,363.9 701,363.6 707,363.8C713,363.9 716.5,363.9 722,365.5C727.5,367.1 730,368.8 734.5,371.8C739,374.8 741.8,376.2 744.5,380.5C747.2,384.8 747.1,387.5 748.2,393C749.4,398.5 749.8,402 750,408C750.2,414 750.1,417 749.5,423C748.9,429 748.1,432.5 747,438C745.9,443.5 745,447 744,450.5C743,454 741.1,453.8 742,455.5C742.9,457.2 745.8,460 748.2,459.2C750.8,458.5 751.8,455.8 754.5,451.8C757.2,447.8 760.5,441.8 762,439.2M678.2,403C680.5,399.8 681.2,396.6 684.5,394.2C687.8,391.9 690.5,391 694.5,391C698.5,391 701.1,391.9 704.5,394.2C707.9,396.6 709.8,399 711.5,403C713.2,407 713.6,409.2 713.2,414.2C712.9,419.2 711.5,423 709.5,428C707.5,433 706.2,435.5 703.2,439.2C700.2,443 697.8,445 694.5,446.8C691.2,448.5 690.2,448.8 687,448C683.8,447.2 681.2,446 678.2,443C675.2,440 673.6,437.5 672,433C670.4,428.5 669.8,425 670,420.5C670.2,416 671.6,414 673.2,410.5C674.9,407 676,406.2 678.2,403ZM685.8,415.5C687.6,413.2 688.9,412.2 690.8,411.8C692.6,411.2 693.9,411.2 695,413C696.1,414.8 696.7,417.5 696.5,420.5C696.3,423.5 695.4,425.9 694,428C692.6,430.1 691.5,431 689.5,431.2C687.5,431.5 685.6,430.9 684,429.2C682.4,427.6 681.1,425.8 681.5,423C681.9,420.2 683.9,417.8 685.8,415.5ZM668.2,475.5C669,473.4 671.1,471.9 673.2,471.2C675.4,470.6 677.2,471.1 679,472.5C680.8,473.9 681.9,475.6 682,478C682.1,480.4 681.1,482.5 679.5,484.2C677.9,486 676,487.2 674,486.8C672,486.2 670.6,484 669.5,481.8C668.4,479.5 667.5,477.6 668.2,475.5ZM633,435C632.2,434.1 630.4,433.3 629.2,430.9C627.9,428.4 627.5,426.9 626.7,422.6C625.9,418.4 625.9,415.1 625.1,409.5C624.2,403.9 623.9,400 622.6,394.7C621.3,389.5 620.6,387.5 618.5,383.2C616.4,378.9 614.9,376.6 611.9,373.4C609,370.1 607.3,368.8 603.7,366.8C600.1,364.8 597.5,364.6 593.9,363.5C590.2,362.4 588.9,361.9 585.6,361.5C582.4,361.1 580.7,361.1 577.4,361.5C574.1,362 572.5,362.4 569.2,363.8C565.9,365.2 564.1,366.2 561,368.4C557.9,370.7 556.2,372.2 553.6,375C551,377.8 549.7,378.8 547.9,382.4C546,386 545.7,388.3 544.6,393.1C543.4,397.8 542.7,401.3 542.1,406.2C541.5,411.1 541.3,413.1 541.6,417.7C541.9,422.3 542.7,424.9 543.7,429.2C544.8,433.5 546.1,434.8 547,439.1C547.9,443.3 548.2,445.6 548.2,450.6C548.2,455.5 547.4,458.5 547,463.7C546.6,469 546.5,471.9 546.2,476.9C545.9,481.8 545.2,483.8 545.4,488.4C545.6,493 546.5,495.9 547,499.9C547.5,503.8 547.7,506.4 547.9,508.1M568.4,508.1C568.9,506.4 569.9,502.8 570.9,499.9C571.8,496.9 571.8,495.6 573.3,493.3C574.8,491 576.4,490.3 578.2,488.4C580.1,486.4 581,486.1 582.4,483.4C583.7,480.8 583.5,477.5 584.8,475.2C586.1,472.9 587,473.9 588.9,471.9C590.9,470 593,468.6 594.7,465.4C596.4,462.1 597.3,459.1 597.5,455.5C597.6,451.9 596.7,450.2 595.5,447.3C594.3,444.3 592.7,444 591.4,440.7C590.1,437.4 590.1,434.5 588.9,430.9C587.8,427.2 586.1,425.6 585.6,422.6C585.1,419.7 586,419 586.5,416.1C587,413.1 588.8,410.6 588.1,407.9C587.4,405.1 583.7,403.9 583.2,402.1C582.7,400.3 584.3,400 585.6,398.8C587,397.7 587.8,397 589.7,396.4C591.7,395.7 593.4,396.7 595.5,395.5C597.6,394.4 598.8,392.7 600.4,390.6C602.1,388.5 602.8,387.2 603.7,384.9C604.6,382.6 605.5,381.2 605,379.1C604.5,377 603.2,375.4 601.2,374.2C599.3,373 597.6,372.7 595.5,373C593.4,373.4 592.4,374.1 590.6,375.8C588.8,377.5 588.1,380.2 586.5,381.6C584.8,383 584.5,382.6 582.4,382.9C580.2,383.2 578.7,382.9 575.8,383.2C572.8,383.5 570.2,383.8 567.6,384.5C564.9,385.3 564.3,385.4 562.6,386.8C561,388.2 560.2,389.2 559.4,391.4C558.5,393.7 558.2,395.4 558.5,398C558.9,400.6 560.2,401.6 561,404.6C561.8,407.5 561.7,409.5 562.6,412.8C563.6,416.1 564.3,418 565.9,421C567.6,424 569.4,424.9 570.9,427.6C572.3,430.2 573,431.5 573.3,434.1C573.6,436.8 573.5,438.1 572.5,440.7C571.5,443.3 569.9,444.7 568.4,447.3C566.9,449.9 565.9,450.6 565.1,453.9C564.3,457.1 565.1,459.8 564.3,463.7C563.5,467.7 562.6,470 561,473.6C559.4,477.2 557.2,478.8 556.1,481.8C554.9,484.7 554.9,485.7 555.2,488.4C555.6,491 557.1,492 557.7,494.9C558.4,497.9 558.7,500.5 558.5,503.1C558.4,505.8 557.2,507.1 556.9,508.1M576.1,388.5C577.4,388.5 578.8,388.2 579.9,389C581,389.7 581.5,390.8 581.5,392.2C581.5,393.7 580.9,394.9 579.9,396.4C578.9,397.8 577.9,398.7 576.6,399.6C575.3,400.6 574.1,400 573.3,401.3C572.5,402.6 572.2,404.2 572.5,406.2C572.8,408.2 574,408.8 575,411.1C575.9,413.4 577.4,416.2 577.4,417.7C577.4,419.2 576.1,418.7 575,418.5C573.8,418.4 572.8,418 571.7,416.9C570.5,415.7 569.4,414.6 569.2,412.8C569,411 570.9,410 570.9,407.9C570.9,405.7 570,404.1 569.2,402.1C568.4,400.1 567.1,399.6 566.7,398C566.4,396.4 566.6,395.4 567.2,393.9C567.9,392.4 568.8,391.6 570,390.6C571.3,389.6 572.1,389.4 573.3,389C574.5,388.5 574.8,388.5 576.1,388.5ZM573.3,448.9C574.7,448 576.3,447.3 578.2,447C580.2,446.6 581.4,446.2 583.2,447.3C584.9,448.3 586.5,449.9 587,452.2C587.4,454.5 586.7,456.5 585.6,458.8C584.6,461.1 583.5,462.2 581.5,463.7C579.6,465.3 577.7,466.7 575.8,466.5C573.9,466.3 573.2,464.9 572.2,462.9C571.1,460.9 570.7,458.6 570.5,456.3C570.4,454 570.8,452.9 571.3,451.4C571.9,449.9 571.9,449.8 573.3,448.9ZM781.8,415.2C783.5,413 787.2,408 790.5,404C793.8,400 795.2,399.8 798,395.2C800.8,390.8 802.2,386.8 804.2,381.5C806.2,376.2 806.2,373.8 808,369C809.8,364.2 810.8,361.5 813,357.8C815.2,354 815.8,352.2 819.2,350.2C822.8,348.2 826.8,348.8 830.5,347.8C834.2,346.8 836.2,346.5 838,345.2C839.8,344 840.1,343.2 839.2,341.5C838.4,339.8 835.8,338.8 833.5,336.5C831.2,334.2 828.9,332.8 828,330.2C827.1,327.8 827.8,326.8 829.2,324C830.8,321.2 832.8,320 835.5,316.5C838.2,313 840.5,310 843,306.5C845.5,303 847,300.5 848,299M877.8,365C879.3,366.1 882,367.7 885.5,370.2C889,372.8 892,375 895.5,377.8C899,380.5 901,381.8 903,384C905,386.2 906,386 905.5,389C905,392 903,395 900.5,399C898,403 895.5,406.1 893,409C890.5,411.9 890.5,413.2 888,413.5C885.5,413.8 883.5,411.6 880.5,410.2C877.5,408.9 876,407.5 873,406.5C870,405.5 868.5,405 865.5,405.2C862.5,405.5 860.8,406.4 858,407.8C855.2,409.1 853,411.1 851.8,412M919.2,299C920.2,300.5 923,303.5 924.2,306.5C925.5,309.5 926.1,311.8 925.5,314C924.9,316.2 922.1,316.1 921,317.8C919.9,319.4 919.4,321.2 920,322C920.6,322.8 922.6,322.9 924.2,321.5C925.9,320.1 926.2,317.9 928,315.2C929.8,312.6 931,310.4 933,308.5C935,306.6 936.5,305.9 938,306C939.5,306.1 939.8,306.4 940.5,309C941.2,311.6 941.2,314.5 941.8,319C942.2,323.5 942.8,327.2 943,331.5C943.2,335.8 943.8,337.2 943,340.2C942.2,343.2 941.5,344.5 939.2,346.5C937,348.5 934,348.2 931.8,350.2C929.5,352.2 929.8,354 928,356.5C926.2,359 925.1,360.2 923,362.8C920.9,365.2 918.8,366.5 917.5,369C916.2,371.5 916.4,372.5 916.8,375.2C917.1,378 917.8,380 919.2,382.8C920.8,385.5 921.8,386.8 924.2,389C926.8,391.2 928.2,392.2 931.8,394C935.2,395.8 938.5,395.8 941.8,397.8C945,399.8 945.5,400.2 948,404C950.5,407.8 951.8,411 954.2,416.5C956.8,422 958.2,425 960.5,431.5C962.8,438 963.5,442.5 965.5,449C967.5,455.5 968.5,458 970.5,464C972.5,470 974,473.6 975.5,479C977,484.4 977.5,488.6 978,491M943,399C944.2,401.5 946.8,406 949.2,411.5C951.8,417 953.2,420.5 955.5,426.5C957.8,432.5 959,435 960.5,441.5C962,448 961.5,452.5 963,459C964.5,465.5 966.5,467.6 968,474C969.5,480.4 970,487.6 970.5,491M913,340.2C914,338 916.9,336.2 919.2,336.5C921.6,336.8 924.9,338.8 925,341.5C925.1,344.2 922.1,349 920,350.2C917.9,351.5 915.6,349.8 914.2,347.8C912.9,345.8 912,342.5 913,340.2ZM965.5,299L968,306.5M966.8,340.2C967,342 966.8,345.5 968,349C969.2,352.5 970.8,354.5 973,357.8C975.2,361 977.8,362 979.2,365.2C980.8,368.5 980.8,370.8 980.5,374C980.2,377.2 978,378.2 978,381.5C978,384.8 979.2,387 980.5,390.2C981.8,393.5 983,395.5 984.2,397.8C985.5,400 986.2,400.8 986.8,401.5M761.6,440.3L760,441.9M902.2,395.8C901.9,396.2 901.6,396.7 900.6,398.1C899.7,399.5 898.8,400.8 897.5,402.8C896.2,404.8 895.9,406.2 894.4,408.3C892.8,410.3 891.6,412 889.7,413C887.8,413.9 887.2,413.6 885,413C882.8,412.3 881.6,411.1 878.8,409.8C875.9,408.6 874.1,407.6 870.9,406.7C867.8,405.9 865.9,405.5 863.1,405.6C860.3,405.8 859.2,406.2 856.9,407.5C854.5,408.8 853.3,411.9 851.4,412.2C849.5,412.5 849.5,410.1 847.5,409.1C845.5,408.1 844.1,407.7 841.2,407.2C838.4,406.7 836.6,406.3 833.4,406.7C830.3,407.1 828.4,407.7 825.6,409.1C822.8,410.5 821.9,411.2 819.4,413.8C816.9,416.2 815.6,418.4 813.1,421.6C810.6,424.7 809.4,425.9 806.9,429.4C804.4,432.8 802.5,435 800.6,438.8C798.8,442.5 798.4,444.8 797.5,448.1C796.6,451.4 797.2,452.7 795.9,455.2C794.7,457.7 793.8,458.6 791.2,460.6C788.8,462.7 786.6,463.4 783.4,465.3C780.3,467.2 778.8,468.3 775.6,470C772.5,471.7 770.9,472.5 767.8,473.9C764.7,475.3 761.6,476.4 760,477M806.9,515C807.5,513.5 808.4,510.2 810,507.5C811.6,504.8 812.8,502.9 814.7,501.2C816.6,499.6 817.2,500.2 819.4,499.4C821.6,498.6 823.1,498.5 825.6,497.3C828.1,496.2 829.4,494.8 831.9,493.4C834.4,492 836.2,491.6 838.1,490.3C840.1,489.1 841.4,488.4 841.6,487.2C841.7,485.9 840.2,485.5 838.9,484.1C837.6,482.7 836.3,482 835,480.2C833.7,478.3 832.7,476.7 832.2,474.7C831.7,472.7 832.2,472.2 832.7,470C833.1,467.8 833.4,466.2 834.2,463.8C835,461.2 835.6,459.2 836.6,457.5C837.5,455.8 838.4,456.2 838.9,455.2C839.4,454.1 839.4,453.3 838.9,452C838.4,450.8 837.7,449.8 836.6,448.9C835.5,448 834.8,448.1 833.4,447.3C832,446.6 830.8,446.2 829.5,445C828.3,443.8 827.6,442.8 827.2,441.1C826.8,439.4 827.2,438.3 827.5,436.4C827.8,434.5 828,433.4 828.8,431.7C829.5,430 830.2,429.4 831.1,427.8C832,426.2 832.8,425.5 833.1,423.9C833.4,422.3 833.2,420.7 832.7,420C832.1,419.3 830.9,419.4 830.3,420.3C829.7,421.2 830.5,423.3 829.5,424.7C828.6,426 827.7,425.6 825.6,427C823.6,428.4 821.9,429.5 819.4,431.7C816.9,433.9 814.9,435.6 813.1,438C811.3,440.3 810.8,440.6 810.3,443.4C809.8,446.2 811.5,449.2 810.8,452C810.1,454.8 808.6,455.3 806.9,457.5C805.2,459.7 804.4,461.2 802.2,463C800,464.7 798.4,465 795.9,466.1C793.4,467.2 791.4,467.3 789.7,468.4C788,469.5 788.9,470.3 787.3,471.6C785.8,472.8 784.5,473.4 781.9,474.7C779.2,475.9 776.5,476.2 774.1,477.8C771.6,479.4 770.6,480.3 769.7,482.5C768.8,484.7 768.8,485.9 769.4,488.8C769.9,491.6 770.9,493.4 772.5,496.6C774.1,499.7 775.3,501.6 777.2,504.4C779.1,507.2 780.3,508.5 781.9,510.6C783.4,512.8 784.4,514.1 785,515M785,489.5C785.6,487.9 787.7,485.6 789.7,483.3C791.7,481 793.3,479.2 795.2,478.1C797,477 797.9,477.1 799.1,477.8C800.2,478.5 800.8,479.5 800.9,481.7C801.1,483.9 800.7,486.1 799.8,488.8C799,491.4 798.4,494.1 796.7,495C795,495.9 793.3,494.1 791.2,493.4C789.2,492.8 787.8,492.3 786.6,491.6C785.3,490.8 784.4,491.2 785,489.5ZM775.6,487.2C775.3,484.8 774.8,485 776.4,484.1C778,483.1 780.9,483.8 783.4,482.5C785.9,481.2 787.3,479.7 788.9,477.8C790.5,475.9 789.5,474.2 791.2,473.1C793,472 794.7,472.2 797.5,472.3C800.3,472.5 803.3,472.5 805.3,473.9C807.3,475.3 807.3,476.4 807.7,479.4C808,482.3 807.5,485 806.9,488.8C806.2,492.5 805.9,494.7 804.5,498.1C803.1,501.6 801.7,503.3 799.8,505.9C798,508.6 797,511.1 795.2,511.4C793.3,511.7 792.8,509.4 790.5,507.5C788.1,505.6 785.9,504.4 783.4,502C780.9,499.7 779.5,498.8 778,495.8C776.4,492.8 775.9,489.5 775.6,487.2ZM765.5,477.8C764.8,478.8 763.3,479.7 762.3,482.5C761.4,485.3 761.2,488.1 760.8,491.9C760.3,495.6 760.2,499.4 760,501.2M920,423.1C918.6,423.4 915.6,423.8 913.1,424.7C910.7,425.6 909.5,425.9 907.7,427.8C905.8,429.7 905.2,430.6 903.8,434.1C902.3,437.5 901.9,440.9 900.6,445C899.4,449.1 898.8,450.6 897.5,454.4C896.2,458.1 895.2,460.6 894.4,463.8C893.6,466.9 893.3,467.7 893.6,470C893.9,472.3 894.8,473.8 895.9,475.5C897,477.2 897.5,477.7 899.1,478.6C900.6,479.5 901.6,479.4 903.8,480.2C905.9,480.9 907.5,481.1 910,482.5C912.5,483.9 914.2,485.9 916.2,487.2C918.2,488.4 919.2,488.4 920,488.8M920,431.7C918.9,432.5 916.4,433.6 914.7,435.6C913,437.7 912.5,439.1 911.6,441.9C910.6,444.7 910.6,445.9 910,449.7C909.4,453.4 908,457.3 908.4,460.6C908.9,463.9 910.8,465.5 912.3,466.1C913.9,466.7 914.7,464.8 916.2,463.8C917.8,462.7 919.2,461.2 920,460.6M889.7,482.5C890.6,480.8 892.2,480.3 894.4,480.2C896.6,480 898.1,480.3 900.6,481.7C903.1,483.1 904.7,485 906.9,487.2C909.1,489.4 910.5,490.8 911.6,492.7C912.7,494.5 913,494.5 912.3,496.6C911.7,498.6 910.2,501.4 908.4,502.8C906.7,504.2 905.9,503.9 903.8,503.6C901.6,503.3 899.7,503 897.5,501.2C895.3,499.5 894.4,497.5 892.8,495C891.2,492.5 890.3,491.2 889.7,488.8C889.1,486.2 888.8,484.2 889.7,482.5ZM920,423.2C921.9,423.5 926,422.9 929.2,424.5C932.5,426.1 934.5,427.6 936,431.5C937.5,435.4 937.4,439 936.8,444C936.1,449 934.8,451.5 933,456.5C931.2,461.5 930,464.5 928,469C926,473.5 924.6,475.5 923,479C921.4,482.5 920.6,485 920,486.5M920,432.8C920.9,433 922.8,433 924.2,434C925.7,435 926.8,435.2 927.2,437.8C927.8,440.2 927.5,443 926.8,446.5C926,450 924.9,452.4 923.5,455.2C922.1,458.1 920.7,459.9 920,461M127.5,495C128.2,495.9 129.8,498.4 131.2,499.5C132.8,500.6 133.2,501.2 135,500.8C136.8,500.2 139,498.1 140,497C141,495.9 140,495.4 140,495M128,510.8C128,508.4 130.1,508 132.5,507.5C134.9,507 137.2,507.4 140,508.2C142.8,509.1 144.8,510 146.2,512C147.8,514 148,516 147.5,518.2C147,520.5 145.5,522.1 143.8,523.2C142,524.4 141,524.8 138.8,524C136.5,523.2 134.7,522.1 132.5,519.5C130.3,516.9 128,513.1 128,510.8ZM192.5,517.5C193,518.6 194.5,520.4 195,523.2C195.5,526.1 194.2,528.2 195,532C195.8,535.8 196.8,537.9 198.8,542C200.8,546.1 201.8,549.1 205,552.5C208.2,555.9 211.2,555.4 215,559C218.8,562.6 220.8,566.6 223.8,570.8C226.8,574.9 228,575.8 230,579.5C232,583.2 232,585.8 233.8,589.5C235.5,593.2 236,594.2 238.8,598.2C241.5,602.2 244,605 247.5,609.5C251,614 253.2,617 256.2,620.8C259.2,624.5 260.8,625 262.5,628.2C264.2,631.5 264,632.8 265,637C266,641.2 266.4,644.4 267.5,649.5C268.6,654.6 269.9,659.9 270.5,662.5M227,495C226.6,495.5 226.7,496.6 225,497.5C223.3,498.4 219.2,498.2 218.8,499.5C218.2,500.8 220.5,504 222.5,504C224.5,504 226.2,501.1 228.8,499.5C231.2,497.9 233.2,496.6 235,495.8C236.8,494.9 237,495.1 237.5,495M256.2,505.8C256.8,503.4 258.8,502.1 261.2,501.5C263.8,500.9 266,501.4 268.8,502.5C271.5,503.6 273.2,504.6 275,507C276.8,509.4 277.2,511.8 277.5,514.5C277.8,517.2 277.2,519.2 276.2,520.8C275.2,522.2 274.8,522.5 272.5,522C270.2,521.5 267.8,520 265,518.2C262.2,516.5 260.5,515.8 258.8,513.2C257,510.8 255.8,508.1 256.2,505.8ZM286,527.5C284.6,527 280.7,524.1 278.8,525C276.8,525.9 276.2,528.9 276.2,532C276.2,535.1 277.5,537.2 278.8,540.8C280,544.2 281.1,545.5 282.5,549.5C283.9,553.5 285.3,558.5 286,560.8M286,627C284.8,627.8 280.4,629 280,630.8C279.6,632.5 282.6,634.2 283.8,635.8C284.9,637.2 285.6,637.8 286,638.2M389.8,495C388.8,496.1 386.8,497.4 384.8,500.8C382.8,504.1 381.5,507 379.8,512C378,517 377.5,521.6 376,525.8C374.5,529.9 375.8,532.4 372.2,532.5C368.8,532.6 363.2,527.4 358.5,526.5C353.8,525.6 352.5,528.6 348.5,528.2C344.5,527.9 343,524.2 338.5,524.5C334,524.8 331,528.2 326,529.5C321,530.8 316,530.5 313.5,530.8M286,560.8C286.6,562 287.8,564 289,567C290.2,570 289.9,572.2 292.2,575.8C294.6,579.2 297.2,580.8 301,584.5C304.8,588.2 307,590.2 311,594.5C315,598.8 317,601.8 321,605.8C325,609.8 326.5,611.5 331,614.5C335.5,617.5 339.2,618.5 343.5,620.8C347.8,623 349.8,623.5 352.2,625.8C354.8,628 355,629 356,632C357,635 356.2,637.8 357.2,640.8C358.2,643.8 359,645 361,647C363,649 365,650.1 367.2,650.8C369.5,651.4 370,651.5 372.2,650C374.5,648.5 375.8,645.9 378.5,643.2C381.2,640.6 383,639.2 386,637C389,634.8 390.6,634.4 393.5,632C396.4,629.6 397.8,626.5 400.5,625.2C403.2,624 405.1,624.6 407.2,625.8C409.4,626.9 411,628.2 411.5,630.8C412,633.2 410.9,634.8 409.8,638.2C408.6,641.8 406.9,643.4 406,648.2C405.1,653.1 405.6,659.6 405.5,662.5M286,627.5C287.2,627.9 290,628.1 292.2,629.5C294.5,630.9 296.1,632.8 297.2,634.5C298.4,636.2 298.5,636.6 298,638.2C297.5,639.9 296.4,642 294.8,642.5C293.1,643 291.5,641.6 289.8,640.8C288,639.9 286.8,638.8 286,638.2M433.5,528.2C436,527.4 436.8,529.5 438.5,531.5C440.2,533.5 441.2,534.9 442.2,538.2C443.2,541.6 443.8,544.8 443.5,548.2C443.2,551.8 442.8,553.6 441,555.8C439.2,557.9 437.5,558.8 434.8,559C432,559.2 429.6,558.6 427.2,557C424.9,555.4 424,553.5 423,550.8C422,548 421.6,546.2 422.2,543.2C422.9,540.2 423.8,538.8 426,535.8C428.2,532.8 431,529.1 433.5,528.2ZM443.5,548.2C444.4,546.9 446.8,546.6 449.8,546.5C452.8,546.4 455.2,546.4 458.5,547.5C461.8,548.6 463.9,549.6 466,552C468.1,554.4 469,556.6 469,559.5C469,562.4 467.9,564.5 466,566.5C464.1,568.5 462.2,569.5 459.8,569.5C457.2,569.5 455.8,568.5 453.5,566.5C451.2,564.5 450.1,562.1 448.5,559.5C446.9,556.9 446.5,555.5 445.5,553.2C444.5,551 442.6,549.6 443.5,548.2ZM479.8,515.8C481.1,514 482.5,512.9 484.8,512C487,511.1 488.5,510.5 491,511.5C493.5,512.5 495.5,514.1 497.2,517C499,519.9 499.5,522.5 499.8,525.8C500,529 500,530.8 498.5,533.2C497,535.8 495,536.9 492.2,538.2C489.5,539.6 487.5,540.2 484.8,540C482,539.8 480.1,539.1 478.5,537C476.9,534.9 476.6,532.8 476.5,529.5C476.4,526.2 477.4,523.5 478,520.8C478.6,518 478.4,517.5 479.8,515.8ZM543.5,598.2C544.2,596.3 548,590.3 547,588.5C546,586.7 541.9,588.9 538.5,589.2C535.1,589.6 533.5,589.5 530,590.5C526.5,591.5 524.8,592.8 521,594.5C517.2,596.2 514,597 511,599C508,601 506.8,602.1 506,604.5C505.2,606.9 506,608.2 507.2,610.8C508.5,613.2 510,614.8 512.2,617C514.5,619.2 516.2,621.5 518.5,622C520.8,622.5 522.5,620 523.5,619.5M461,622C462.1,619.5 463.5,617.6 466,615.8C468.5,613.9 470,613.2 473.5,612.8C477,612.2 480,612.1 483.5,613.2C487,614.4 488.6,615.5 491,618.2C493.4,621 494.6,623.2 495.5,627C496.4,630.8 496.4,633.5 495.5,637C494.6,640.5 493.4,641.8 491,644.5C488.6,647.2 486.2,648.1 483.5,650.8C480.8,653.4 480,656.8 477.2,657.5C474.5,658.2 472.4,656.6 469.8,654.5C467.1,652.4 465.5,650.5 464,647C462.5,643.5 462.9,640.8 462.2,637C461.6,633.2 460.8,631.2 460.5,628.2C460.2,625.2 459.9,624.5 461,622ZM467.2,628.2C468.4,627.4 470.2,626.8 472.2,627.5C474.2,628.2 475.8,629.9 477.2,632C478.8,634.1 479.8,636.2 479.8,638.2C479.8,640.2 478.9,640.8 477.2,642C475.6,643.2 473.2,645.2 471.5,644.5C469.8,643.8 469.5,640.8 468.5,638.2C467.5,635.8 466.8,634 466.5,632C466.2,630 466.1,629.1 467.2,628.2ZM447.2,661.2C447.8,660.6 448.9,658.1 449.8,658.2C450.6,658.4 451.4,661.2 451.8,662M548.2,508C548.8,510.3 549.6,513.7 550.8,519.5C551.9,525.3 553,530 554,537C555,544 555.4,547.5 555.8,554.5C556.1,561.5 555.5,565 555.8,572C556,579 555.8,583 557,589.5C558.2,596 559.5,600 562,604.5C564.5,609 567.8,609 569.5,612C571.2,615 570.5,618 570.8,619.5M573.2,652L575.8,662.5M557,508C557.5,510.3 558.8,515.5 559.5,519.5C560.2,523.5 559.2,525.8 560.8,528.2C562.2,530.8 565,532.2 567,532C569,531.8 570.2,529.5 570.8,527C571.2,524.5 570.5,522.5 569.5,519.5C568.5,516.5 566.2,514.3 565.8,512C565.2,509.7 566.8,508.8 567,508M570.8,543.2C571.2,541.8 573.1,540.2 574.5,540C575.9,539.8 577.2,540.7 577.5,542C577.8,543.3 576.9,545.4 575.8,546.5C574.6,547.6 573,548.1 572,547.5C571,546.9 570.2,544.8 570.8,543.2ZM638.2,504C638.5,503.5 639.5,503.3 640,503.5C640.5,503.7 641,504.5 640.8,505C640.5,505.5 639.5,506.2 639,506C638.5,505.8 638,504.5 638.2,504ZM755.8,605.8C754.5,604.8 752.2,603.2 749.5,600.8C746.8,598.2 744.8,595.8 742,593.2C739.2,590.8 738.8,588.8 735.8,588.2C732.8,587.8 729.5,591 727,590.8C724.5,590.5 723.5,589.2 723.2,587C723,584.8 725.5,583 725.8,579.5C726,576 726.2,572.8 724.5,569.5C722.8,566.2 719.5,565.5 717,563.2C714.5,561 712.5,560 712,558.2C711.5,556.5 712.5,555.8 714.5,554.5C716.5,553.2 719.9,554 722,552C724.1,550 724.5,548 725,544.5C725.5,541 725.1,538.5 724.5,534.5C723.9,530.5 723.5,528 722,524.5C720.5,521 719,519.5 717,517C715,514.5 713,514.9 712,512C711,509.1 713.2,504.2 712,502.5C710.8,500.8 707.2,501.4 705.8,503.2C704.2,505.1 705.2,508.8 704.5,512C703.8,515.2 704,516 702,519.5C700,523 698,525.5 694.5,529.5C691,533.5 688.5,536 684.5,539.5C680.5,543 678.5,544.5 674.5,547C670.5,549.5 668.2,552.2 664.5,552C660.8,551.8 659.2,548.2 655.8,545.8C652.2,543.2 650.5,542.5 647,539.5C643.5,536.5 641.2,533.4 638.2,530.8C635.2,528.1 633.8,525.2 632,526.5C630.2,527.8 631.5,533.4 629.5,537C627.5,540.6 624.2,541.2 622,544.5C619.8,547.8 618.8,550 618.2,553.2C617.8,556.5 618.2,558 619.5,560.8C620.8,563.5 622.5,564.5 624.5,567C626.5,569.5 627.2,572.8 629.5,573.2C631.8,573.8 633.2,571 635.8,569.5C638.2,568 639.5,566.5 642,565.8C644.5,565 646.2,564 648.2,565.8C650.2,567.5 650.2,571.2 652,574.5C653.8,577.8 654.5,580 657,582C659.5,584 661,585 664.5,584.5C668,584 671.2,579.5 674.5,579.5C677.8,579.5 679,582.5 680.8,584.5C682.5,586.5 682.8,588.5 683.2,589.5M692,615.8C692.2,618.5 692.9,623.8 693.2,629.5C693.6,635.2 694.8,641 694,644.5C693.2,648 691,645.5 689.5,647C688,648.5 686,649.8 686.5,652C687,654.2 689.9,658.2 692,658.2C694.1,658.2 694.5,654.2 697,652C699.5,649.8 701.8,648.1 704.5,647C707.2,645.9 709.1,645.8 710.8,646.5C712.4,647.2 713,648.6 712.8,650.8C712.5,652.9 711.1,654.6 709.5,657C707.9,659.4 705.5,661.4 704.5,662.5M702,572C702.9,570.6 704.2,569.2 705.8,569C707.2,568.8 708.5,569.1 709.5,570.8C710.5,572.4 711,574.9 710.8,577C710.5,579.1 709.8,580.8 708.2,581.5C706.8,582.2 704.6,581.9 703.2,580.8C701.9,579.6 701.8,577.5 701.5,575.8C701.2,574 701.1,573.4 702,572ZM717,614.5C717,613 721,611.4 723.2,611.5C725.5,611.6 728.2,613.5 728.2,615C728.2,616.5 725.5,619.1 723.2,619C721,618.9 717,616 717,614.5ZM636.5,662.5C636.6,659.9 636.4,653.9 637,649.5C637.6,645.1 638,643.8 639.5,640.8C641,637.8 642.5,636.1 644.5,634.5C646.5,632.9 647.5,632 649.5,632.5C651.5,633 653.2,634.6 654.5,637C655.8,639.4 656,641.2 655.8,644.5C655.5,647.8 654,649.6 653.2,653.2C652.5,656.9 652.2,660.6 652,662.5M742,662.5C743,661.9 745,660.2 747,659.5C749,658.8 750.2,658.8 752,659C753.8,659.2 755,660.4 755.8,660.8M784.5,515C785.5,516.8 786.8,521 789.5,523.8C792.2,526.5 795.5,528.5 798.2,528.8C801,529 801.6,527.8 803.2,525C804.9,522.2 805.9,517 806.5,515M760,501.2C760.4,502 760.9,501.8 762,505C763.1,508.2 764.6,513.2 765.8,517.5C766.9,521.8 767.8,523.5 767.5,526.2C767.2,529 766.4,529.8 764.5,531.2C762.6,532.8 760.5,532.2 758.2,533.8C756,535.2 754.4,536.2 753.2,538.8C752.1,541.2 751.8,543.1 752.8,546.2C753.8,549.4 755.9,553.2 758.2,554.2C760.6,555.2 761.8,552.5 764.5,551.2C767.2,550 768.8,548.4 772,548C775.2,547.6 777.2,548.6 780.8,549.5C784.2,550.4 786.8,550.9 789.5,552.5C792.2,554.1 794.5,555.2 794.5,557.5C794.5,559.8 791.2,561.2 789.5,563.8C787.8,566.2 785.8,567.5 785.8,570C785.8,572.5 787.8,574.2 789.5,576.2C791.2,578.2 792.8,577.2 794.5,580C796.2,582.8 796.8,586 798.2,590C799.8,594 800.8,595.5 802,600C803.2,604.5 803,607.5 804.5,612.5C806,617.5 807.8,620.5 809.5,625C811.2,629.5 811.6,630.8 813.2,635C814.9,639.2 817,642.8 817.5,646.2C818,649.8 815.4,650 815.8,652.5C816.1,655 818.8,657.5 819.5,658.8M874,662.5C874.4,660 875.1,655 875.8,650C876.4,645 875.8,642 877,637.5C878.2,633 879.8,631 882,627.5C884.2,624 886.4,622.5 888.2,620C890.1,617.5 891.8,618 891.5,615C891.2,612 888.9,609.5 887,605C885.1,600.5 883.5,597.8 882,592.5C880.5,587.2 881,583.2 879.5,578.8C878,574.2 877,572.4 874.5,570C872,567.6 870,566.8 867,567C864,567.2 861.5,568.6 859.5,571.2C857.5,573.9 858,576.2 857,580C856,583.8 856,586.5 854.5,590C853,593.5 851.4,594.5 849.5,597.5C847.6,600.5 846,601.5 845,605C844,608.5 843.9,610.5 844.5,615C845.1,619.5 846.8,622.5 848.2,627.5C849.8,632.5 851,635.5 852,640C853,644.5 853.5,646.9 853.2,650C853,653.1 852.2,655.2 850.8,655.8C849.2,656.2 848.2,654.6 845.8,652.5C843.2,650.4 841,648.5 838.2,645C835.5,641.5 834,639 832,635C830,631 830,628.8 828.2,625C826.5,621.2 825,620.2 823.2,616.2C821.5,612.2 820.6,609.2 819.5,605C818.4,600.8 819,598.8 817.5,595C816,591.2 813.5,589.8 812,586.2C810.5,582.8 810,581 810,577.5C810,574 810.5,571.8 812,568.8C813.5,565.8 815.2,564.8 817.5,562.5C819.8,560.2 821.6,559.5 823.2,557.5C824.9,555.5 824.9,553 825.8,552.5C826.6,552 827.2,552.8 827.8,555C828.2,557.2 826.9,561.1 828.2,563.8C829.6,566.4 832,566.4 834.5,568C837,569.6 838.5,571.4 840.8,572C843,572.6 844.5,572.4 845.8,571.2C847,570.1 846.6,568.9 847,566.2C847.4,563.6 846.2,560 847.5,558C848.8,556 850.9,557 853.2,556.2C855.6,555.5 858.4,556.5 859.5,554.5C860.6,552.5 860,549.4 859,546.2C858,543.1 856.6,541.2 854.5,538.8C852.4,536.2 850.8,536 848.2,533.8C845.8,531.5 843.6,530 842,527.5C840.4,525 840.2,524 840,521.2C839.8,518.5 839.6,516.4 840.8,513.8C841.9,511.1 843.5,509.5 845.8,508C848,506.5 849.2,506.2 852,506.2C854.8,506.2 856.8,507 859.5,508C862.2,509 863.5,509.4 865.8,511.2C868,513.1 868.5,514.8 870.8,517.5C873,520.2 874.8,522 877,525C879.2,528 879.8,530 882,532.5C884.2,535 885.2,536 888.2,537.5C891.2,539 894.2,539.9 897,540C899.8,540.1 899.8,539.4 902,538C904.2,536.6 905.2,534.2 908.2,533C911.2,531.8 913.2,531.7 917,532C920.8,532.3 923,532.6 927,534.5C931,536.4 933.5,537.6 937,541.2C940.5,544.9 941.5,548 944.5,552.5C947.5,557 948.5,559.5 952,563.8C955.5,568 958.8,570 962,573.8C965.2,577.5 966,578.2 968.2,582.5C970.5,586.8 971.8,590.5 973.2,595C974.8,599.5 976,601 975.8,605C975.5,609 974.2,611.5 972,615C969.8,618.5 967.2,620.2 964.5,622.5C961.8,624.8 959.8,624.2 958.2,626.2C956.8,628.2 958,630 957,632.5C956,635 955,637.1 953.2,638.8C951.5,640.4 950.2,641 948.2,640.5C946.2,640 945.1,638.4 943.2,636.2C941.4,634.1 942.2,631.4 939,630C935.8,628.6 931.1,629.5 927,629.5C922.9,629.5 920.5,627.9 918.2,630C916,632.1 917,636 915.8,640C914.5,644 912.9,646.5 912,650C911.1,653.5 911.2,655 911.5,657.5C911.8,660 912.9,661.5 913.2,662.5M827,602.5C827,600.6 828.1,598.5 829,598.8C829.9,599 831.5,601.9 831.5,603.8C831.5,605.6 829.9,608.2 829,608C828.1,607.8 827,604.4 827,602.5ZM910.8,545.5C912,543.8 914.2,543 917,542.5C919.8,542 921.5,541.9 924.5,543C927.5,544.1 929.2,545.4 932,548C934.8,550.6 935.5,552.9 938.2,556.2C941,559.6 942.5,561.8 945.8,565C949,568.2 951.5,569.5 954.5,572.5C957.5,575.5 958.5,576.5 960.8,580C963,583.5 964.4,585.5 965.8,590C967.1,594.5 968,598.5 967.5,602.5C967,606.5 965.6,608.1 963.2,610C960.9,611.9 959,612.5 955.8,612C952.5,611.5 950.5,609.9 947,607.5C943.5,605.1 942,603.2 938.2,600C934.5,596.8 931.5,594.8 928.2,591.2C925,587.8 924.2,586.5 922,582.5C919.8,578.5 918.8,575.8 917,571.2C915.2,566.8 914.5,564 913.2,560C912,556 911.2,554.1 910.8,551.2C910.2,548.4 909.5,547.2 910.8,545.5ZM933.2,578.8C934.4,577.4 935.8,575.6 938.2,575.5C940.8,575.4 942.8,576.4 945.8,578C948.8,579.6 950.8,581.1 953.2,583.8C955.8,586.4 957.1,588 958.2,591.2C959.4,594.5 959.5,597.4 959,600C958.5,602.6 957.6,603.9 955.8,604.5C953.9,605.1 952.2,604.6 949.5,603C946.8,601.4 944.8,599.1 942,596.2C939.2,593.4 937.6,591.5 935.8,588.8C933.9,586 933,584.5 932.5,582.5C932,580.5 932.1,580.1 933.2,578.8ZM923.2,563.8C923.4,562 925.1,558 926.2,558C927.4,558 929.1,562 929,563.8C928.9,565.5 926.9,567 925.8,567C924.6,567 923.1,565.5 923.2,563.8ZM912,480C913.2,480.8 915.8,483.8 918.2,483.8C920.8,483.8 923.2,480.8 924.5,480M977,480C977.5,482 978.2,485.5 979.5,490C980.8,494.5 981.9,499.5 983.2,502.5C984.6,505.5 985.9,504.5 986.5,505M773.2,607C774.2,606.9 777,605.5 778.2,606.5C779.5,607.5 778,608.9 779.5,612C781,615.1 783.2,618.5 785.8,622C788.2,625.5 789.5,627 792,629.5C794.5,632 794.8,631.9 798,634.5C801.2,637.1 804.5,639.1 808.2,642.5C812,645.9 814.9,649.5 816.5,651.2M789.5,660.5C790.5,659.8 792.2,657.9 794.5,657C796.8,656.1 798.5,655.6 800.8,656.2C803,656.9 804.8,659.2 805.8,660M870.9,290C870.6,290.8 870.8,292.4 869.4,293.9C868.1,295.4 865.9,296.2 864.1,297.3C862.2,298.5 861.9,298.1 860.2,299.8C858.4,301.4 857.4,303.2 855.3,305.6C853.1,308.1 851.8,309.5 849.4,312C847.1,314.4 845.5,315.5 843.6,317.8C841.6,320.2 840.2,321.5 839.6,323.7C839.1,325.8 839.6,326.9 840.6,328.6C841.6,330.2 842.2,331.1 844.5,332C846.9,332.9 849,333 852.3,333C855.7,333 858.2,332.4 861.1,332C864.1,331.6 864.8,331 867,331C869.1,331 870.1,331.3 871.9,332C873.6,332.7 874.6,333.1 875.8,334.4C877,335.8 877.7,336.8 877.7,338.8C877.7,340.9 877,342.5 875.8,344.7C874.6,346.8 873,347.6 871.9,349.6C870.7,351.5 870.1,352.5 869.9,354.5C869.7,356.4 870.1,357.7 870.9,359.3C871.7,361 872.5,361.6 873.8,362.8C875.2,363.9 877,364.6 877.7,365M896.8,367.6C895.6,368.3 895,368.7 893.4,368.1C891.7,367.6 890.4,366.6 888.5,365C886.5,363.4 885.4,362 883.6,360.3C881.7,358.6 880.3,358.4 879.2,356.4C878.1,354.5 877.9,353.1 878.2,350.5C878.5,348 879.6,346.2 880.7,343.7C881.7,341.2 883,339.8 883.6,337.9C884.2,335.9 885,335.8 883.6,333.9C882.2,332.1 879.3,330.3 876.8,328.6C874.2,326.8 873.4,325.9 870.9,325.2C868.4,324.4 866.8,324.2 864.1,324.7C861.3,325.2 860,326.9 857.2,327.6C854.5,328.3 852.4,328.4 850.4,328.1C848.3,327.8 847.6,327.7 847,326.1C846.4,324.6 846.2,322.6 847.5,320.3C848.7,317.9 851,316.5 853.3,314.4C855.7,312.4 856.6,311.4 859.2,310C861.7,308.7 863.5,308.7 866,307.6C868.6,306.5 869.5,306 871.9,304.6C874.2,303.3 875.4,302.5 877.7,300.7C880.1,299 881.3,297.3 883.6,295.9C885.8,294.4 887,293.6 889,293.4C890.9,293.2 891.3,293.8 893.4,294.9C895.4,296 896.9,297 899.2,298.8C901.6,300.5 903.3,301.9 905.1,303.7C906.8,305.4 907.7,305.8 908,307.6C908.3,309.3 907.7,310.7 906.5,312.5C905.4,314.2 903.7,315.1 902.1,316.4C900.6,317.6 899.5,317.2 898.7,318.8C897.9,320.4 898,321.7 898.2,324.2C898.4,326.6 899.2,328.1 899.7,331C900.2,333.9 900.3,335.7 900.7,338.8C901.1,342 901.4,343.7 901.7,346.6C902,349.6 902.2,350.7 902.1,353.5C902.1,356.2 901.8,358 901.2,360.3C900.6,362.6 900.1,363.5 899.2,365C898.3,366.5 897.9,367 896.8,367.6ZM894.3,300.3C896,300.8 896.7,301.8 897.8,303.2C898.8,304.6 899.8,305.2 899.7,307.1C899.6,308.9 898.2,310.2 897.3,312.5C896.3,314.7 895.6,316.2 894.8,318.3C894,320.5 893.8,321.2 893.4,323.2C892.9,325.3 893.5,327 892.4,328.6C891.3,330.1 889.7,331.2 888,331C886.2,330.8 885.6,329.1 883.6,327.6C881.5,326.1 880.1,325.3 877.7,323.7C875.4,322.1 873.8,321 871.9,319.8C869.9,318.6 869.3,318.4 868,317.8C866.6,317.2 866.5,317.3 865,316.9C863.6,316.4 862.2,315.2 860.6,315.4C859.1,315.6 858.6,316.7 857.2,317.8C855.9,319 854,320.4 853.8,321.2C853.6,322.1 854.9,322.1 856.2,322.2C857.6,322.3 859,322.6 860.6,321.7C862.3,320.9 862.9,319.4 864.6,317.8C866.2,316.3 866.9,315.8 868.9,313.9C871,312.1 872.7,310.5 874.8,308.6C877,306.6 877.7,305.5 879.7,304.2C881.6,302.8 882.6,302.5 884.6,301.7C886.5,300.9 887.5,300.5 889.5,300.3C891.4,300 892.7,299.7 894.3,300.3ZM883.6,306.1C885.5,305.2 886.8,304.9 888.5,305.1C890.1,305.3 891.4,305.6 891.9,307.1C892.4,308.6 891.5,310.2 890.9,312.5C890.3,314.7 889.7,316.3 889,318.3C888.2,320.4 888.3,322.1 887,322.7C885.7,323.3 884.5,322.2 882.6,321.2C880.8,320.3 879,319.4 877.7,317.8C876.5,316.3 876.1,315.1 876.3,313.4C876.5,311.8 877.2,311 878.7,309.5C880.2,308.1 881.6,307 883.6,306.1ZM892.4,335.4C893.2,336.1 893.2,337.8 893.8,339.8C894.5,341.9 895.2,343.3 895.8,345.7C896.4,348 896.6,349.3 896.8,351.5C897,353.8 897.7,355.5 896.8,356.9C895.9,358.3 894.2,358.6 892.4,358.4C890.5,358.2 889.3,357.2 887.5,355.9C885.7,354.6 884.6,353.6 883.6,352C882.6,350.4 882.4,349.9 882.6,348.1C882.8,346.3 883.6,345.1 884.6,343.2C885.5,341.4 886.4,340.2 887.5,338.8C888.6,337.5 889,337.1 889.9,336.4C890.9,335.7 891.6,334.7 892.4,335.4Z"/>
<path stroke="#484848" stroke-width="0.75" d="M83.5,120.5C83.4,124.2 82.8,145.1 82.5,152.5C82.2,159.9 81.6,177.9 81.2,183.8C80.9,189.6 79.8,194.2 79.2,202.5C78.7,210.8 77,242.8 76.2,255C75.5,267.2 73.4,300.9 73,307M81.2,183.8C86.9,184 115,185.3 130,186C145,186.7 191.8,188.8 210,189.8C228.2,190.7 277.1,193.3 286,193.8M225,120.5C224.5,121.9 221.5,128.8 220.5,132.5C219.5,136.2 217.4,147.2 216.2,152.5C215.1,157.8 211.2,173.1 210.5,177.5C209.8,181.9 210.5,188.5 210.5,190M286,193.8C293.3,194 334.4,195.5 348.5,196C362.6,196.5 394.1,197.7 407.2,198.2C420.4,198.8 445.3,200.2 461,200.8C476.7,201.3 532.5,202.7 542,203M410.5,120.5C410.3,125.1 409.4,150.9 409,160C408.6,169.1 407.5,193.8 407.2,198.2M542,203L587,203.8 590.8,207 677,209.5 708.2,209.5 708.8,205.5 798,206.8M607.5,120.5L607.5,132M774.5,193C775.1,192.2 777.9,187.7 779.5,186.2C781.1,184.8 786.1,181.7 788.2,180.5C790.4,179.3 796.9,176.3 798,175.8M798,206.8L843,208.2 893,209.5 912.8,209.2M913.5,120.5L912.8,208.5 910,210 909.5,240 909.5,307M909.5,240.4L986.8,240.4M798,175.8C799.8,175.3 809.4,172.7 813,172C816.6,171.3 826.6,170.3 829.2,169.5C831.9,168.7 833.6,166.3 835.5,165C837.4,163.7 843.3,160.1 845.5,158.8C847.7,157.4 852.8,155.2 854.2,153.8C855.7,152.3 857.4,148 858,146.2C858.6,144.5 859.2,140.9 859.2,138.8C859.2,136.6 858.5,129.6 858,127.5C857.5,125.4 855.4,121.3 855,120.5M73.8,303C73.5,305.9 71.7,323 71.2,328C70.8,333 70.1,343.9 70,346M697,495L697.5,476.2 789.5,478 792,474.2 798,473.8M841.8,384C842.8,384.2 848.3,385.7 850.5,386C852.7,386.3 857.9,386 860.5,386.5C863.1,387 869.2,389.2 873,390.2C876.8,391.3 888.8,394.2 893,395.2C897.2,396.3 903.6,398.6 909.2,399C914.9,399.4 937.2,399.4 941.8,399C946.3,398.6 946.5,396.5 948,396C949.5,395.5 952.9,394.3 954.2,394.5C955.6,394.7 958.1,397.2 959.2,397.8C960.4,398.3 962.9,399 964.2,399C965.6,399 969,398.3 970.5,397.8C972,397.2 974.9,394.7 976.8,394C978.6,393.3 985.6,392.2 986.8,392M909.5,299C909.3,304.8 908.2,337.3 908,349C907.8,360.7 907.6,384.4 907.5,399C907.4,413.6 906.9,463.3 906.8,474C906.6,484.7 906.3,489 906.2,491M941.8,399C941.7,401.9 941.2,418.2 941,424C940.8,429.8 940.3,441.2 940,449C939.7,456.8 938.9,486.1 938.8,491M849.4,479.4C849.4,481.4 848.9,494.5 849.4,496.6C849.9,498.7 852.3,497.3 853.8,497.3C855.2,497.4 860.4,496.9 861.6,497.3C862.7,497.8 863.4,499.9 863.9,501.2C864.5,502.6 865.8,507.5 866.2,509.1C866.7,510.7 867.6,514.3 867.8,515M760,477L780.3,477.8 788.1,477.5 790.5,474.7 822.5,474.7 847.5,475 906.9,475.5M906.9,475.5L906.6,503.6 903.8,505.2 903.4,515M849.4,495.8C850.2,495.6 855.1,494.9 856.9,494.2C858.7,493.6 862.9,491.2 864.7,490.3C866.5,489.4 870.5,487.3 872.5,486.4C874.5,485.5 879.9,483.2 881.9,482.5C883.9,481.8 887.9,480.8 889.7,480.6C891.5,480.4 895.5,480.2 897.5,480.6C899.5,481 904.2,482.8 906.9,484.1C909.5,485.3 918.5,490.7 920,491.6M696.5,487L695.8,541.2 635.8,542 634.5,578.2M760,602.5L765,601.5 761.5,612 756.5,611.2ZM849,496.2C850.5,496.3 860.2,496.1 862,497C863.8,497.9 863.9,501.9 864.5,503.8C865.1,505.6 866.4,510.6 867,512.5C867.6,514.4 868.5,518.7 869.5,520C870.5,521.3 874.9,522.7 875.8,523.8C876.6,524.8 876.9,527.6 877,528.8C877.1,529.9 876.1,532.6 876.5,533.8C876.9,534.9 879.5,537.7 880.8,538.8C882,539.8 885.5,541.8 887,542.5C888.5,543.2 892.2,543 893.2,544.5C894.3,546 895,552.8 895.8,555C896.5,557.2 898.4,562 899.5,563.8C900.6,565.5 904.4,569.3 905,570M849,480L849,496.2M903.8,505.2L902,555 901.5,615M920,491.5C922.1,491.6 934.8,492.4 938.2,492.5C941.7,492.6 947,492.6 949.5,492C952,491.4 957.2,488.4 959.5,487.5C961.8,486.6 966.4,485.1 969.5,484.5C972.6,483.9 984.5,482.7 986.5,482.5M938.2,480C938.2,482.8 937.8,500.1 938.2,503.8C938.7,507.4 941.3,509.4 942,511.2C942.7,513.1 943.4,517.8 944,520C944.6,522.2 946.7,528.4 947.5,530C948.3,531.6 948.7,533.1 950.8,533.8C952.8,534.4 963.6,533 965.2,535.5C966.9,538 965.1,550.2 965,555C964.9,559.8 964.1,573 964.5,576.2C964.9,579.5 967.7,580.9 968.2,582.5C968.8,584.1 968.8,588.2 969.5,590C970.2,591.8 973.8,596.3 974.5,597.5C975.2,598.7 974.4,600.1 975.8,600.5C977.1,600.9 985.2,600.5 986.5,600.5M965.2,540L986.5,541.2"/>
<path stroke="#262626" stroke-width="0.85" d="M210.5,190C210.7,192.9 211.8,210.9 212,215C212.2,219.1 212.5,222.3 212.5,225C212.5,227.7 210.9,236.2 211.8,238C212.6,239.8 217.9,239.4 220,240.8C222.1,242.1 227.7,247.6 230,249.5C232.3,251.4 237.8,254.8 239.5,256.8C241.2,258.7 243.4,263.9 244.5,266.2C245.6,268.6 248.6,274.8 248.8,277C248.9,279.2 246.2,282.8 245.5,285C244.8,287.2 243.1,293.7 242.5,296.2C241.9,298.8 241,305.7 240.8,307M248.8,277C249,277.9 250.1,283.2 251.2,285C252.4,286.8 256.9,291.1 258.8,292C260.6,292.9 264.3,292.2 267.5,293C270.7,293.8 283.8,298.1 286,298.8M286,298.8C288.9,299 304.1,300.3 311,301.2C317.9,302.2 340.8,306.3 344.8,307M588.2,120.5C589.4,121.3 596,126.2 598.2,127.5C600.5,128.8 604.4,130 607.5,132C610.6,134 620.5,141.9 624.5,145C628.5,148.1 639.1,156.3 642,158.8C644.9,161.2 647.2,163.2 649.5,166.2C651.8,169.3 658.8,180 662,185C665.2,190 673.5,205 677,209.5C680.5,214 687.3,219.3 692,223.8C696.7,228.2 711.8,241.8 717,247.5C722.2,253.2 732.9,267.1 737,272.5C741.1,277.9 749.7,290.2 752,293.8C754.3,297.2 756.3,301 757,302.5C757.7,304 758.1,306.5 758.2,307M713.2,120.5C714.1,121.3 718.3,124.5 720.8,127.5C723.2,130.5 732.2,143.2 734.5,146.2C736.8,149.3 739,152 740.8,153.8C742.5,155.5 747.4,158.9 749.5,161.2C751.6,163.6 757.5,171.7 759,173.8C760.5,175.8 760.6,177.1 762,178.8C763.4,180.4 769.3,185.8 770.8,187.5C772.2,189.2 773.9,190.7 774.5,193C775.1,195.3 776,204.6 776.2,207.5C776.5,210.4 777.4,214.6 777,217.5C776.6,220.4 774,229.6 773.2,232.5C772.5,235.4 771.8,240.5 770.8,242.5C769.7,244.5 765.6,247.7 764.5,250C763.4,252.3 762.1,259.6 761.5,262.5C760.9,265.4 759.8,271.4 759.5,275C759.2,278.6 759.7,291.6 759,293.8C758.3,295.9 753.9,293.8 753.2,293.8M242,303C241.8,304.8 240.6,314.5 240,318C239.4,321.5 238.2,329.2 237,333C235.8,336.8 231.3,347 230,350.5C228.7,354 226.1,360.1 225.5,363C224.9,365.9 224.9,373.2 225,375.5C225.1,377.8 226.6,381.2 226.8,383C226.9,384.8 226.7,388.5 226.2,390.5C225.8,392.5 223.7,398.3 223,400.5C222.3,402.7 220.8,408.2 220.5,409.2M321,303C323.6,303.4 338.5,305.9 343.5,306.8C348.5,307.6 359.3,309.6 363.5,310C367.7,310.4 377.3,310.1 379.8,310.5C382.2,310.9 382.9,312.6 384.8,313C386.6,313.4 393.7,313.4 396,313.5C398.3,313.6 402.4,314.1 404.8,314.2C407.1,314.4 413.5,314.4 416,314.8C418.5,315.1 424.4,316.8 426,317.5C427.6,318.2 428.6,319 429.8,320.5C430.9,322 433.8,327 436,330.5C438.2,334 445.6,345.8 448.5,350.5C451.4,355.2 458.4,366.4 461,370.5C463.6,374.6 468.7,382.6 471,385.5C473.3,388.4 478.7,393.5 481,395.5C483.3,397.5 488.8,401.8 491,403C493.2,404.2 497.4,405.4 499.8,405.5C502.1,405.6 508.4,404.7 511,404.2C513.6,403.8 520.1,402.9 522.2,401.8C524.4,400.6 528.1,396 529.8,394.2C531.4,392.5 534.6,388 536,386.8C537.4,385.5 541.3,383.9 542,383.5M542,383.5C543.3,382.7 548.4,377.8 553.2,376.2C558.1,374.7 577.3,371.6 583.2,370.5C589.2,369.4 600,367.3 604.5,366.8C609,366.2 618.5,366.7 622,366C625.5,365.3 631.3,362.2 634.5,361C637.7,359.8 646.4,356.6 649.5,356C652.6,355.4 657,356.7 660.8,355.5C664.5,354.3 677.2,347.7 682,345.5C686.8,343.3 697.9,338.6 702,336.8C706.1,334.9 714.1,331.3 717,330C719.9,328.7 724.7,326.4 727,325.5C729.3,324.6 733.8,322.9 737,322.5C740.2,322.1 752.5,321.8 754.5,321.8M660.8,355.5C659.7,357.4 654.2,368 652,371.8C649.8,375.5 643.8,384.8 642,388C640.2,391.2 637.7,396 637,399.2C636.3,402.5 636.1,412.1 635.8,415.5C635.4,418.9 634.4,425.7 634,428C633.6,430.3 633.9,433.5 632.5,435C631.1,436.5 623.8,439.2 622,441C620.2,442.8 618.3,448.2 617,450.5C615.7,452.8 611.9,458.2 610.8,460.5C609.6,462.8 607.5,466.5 607,470.5C606.5,474.5 606.6,492.1 606.5,495M757.5,303C757.6,304.8 758.5,315.8 758.2,318C758,320.2 756.1,319.1 755.8,321.8C755.4,324.4 755.2,336.3 755,340.5C754.8,344.7 754.1,353.6 754,358C753.9,362.4 753.9,373.3 754,378C754.1,382.7 754.9,393.6 755,398C755.1,402.4 754.9,411.4 754.5,415.5C754.1,419.6 752.9,429.2 752,433C751.1,436.8 748.5,444.5 747,448C745.5,451.5 741.2,459.8 739.5,463C737.8,466.2 733.6,473.2 732.5,475.5C731.4,477.8 730.4,480.7 730,483C729.6,485.3 729.6,493.6 729.5,495M758.2,318C759.3,318.7 764.8,322.8 767,324.2C769.2,325.7 775.1,329 777,330.5C778.9,332 781.8,335.3 783.2,336.8C784.7,338.2 787.8,341.5 789.5,343C791.2,344.5 797,348.5 798,349.2M763.2,308.5L777,318.5M799,288.5L800,288.8M583.2,370.4C583.3,371.1 584.1,375.2 584,376.6C583.9,378 583.2,381.6 582.4,382.4C581.5,383.2 577.5,383 576.6,383.5C575.7,384.1 575.6,386.5 575,387.3C574.3,388.1 571.6,389.6 570.9,390.6C570.1,391.6 568.3,394.8 568.4,395.5C568.5,396.3 570.8,397.6 571.7,397.2C572.6,396.8 575.9,392.9 576.1,392.2C576.3,391.6 573.6,391.5 573.3,391.4M798,349.2C799.8,350.7 809.5,358.8 813,361.5C816.5,364.2 824.6,370.1 828,372.8C831.4,375.4 840.1,382.7 841.8,384M841.8,384C842.2,385.5 844.5,393.6 845.5,396.5C846.5,399.4 849.6,406.7 850,409C850.4,411.3 849.5,415 849.2,416.5C849,418 847.7,420.9 847.5,421.5M958,397.8C958.1,399.1 957.6,406.8 958.5,409C959.4,411.2 964.4,415.3 965.5,416.5C966.6,417.7 966.4,419.1 968,419.5C969.6,419.9 977.9,419.3 979.2,420.2C980.6,421.2 979.6,425.9 980,427.8C980.4,429.6 982.2,434.8 983,436.5C983.8,438.2 986.3,441.4 986.8,442M845.2,395C845.5,395.9 847.6,400.9 848.3,402.8C848.9,404.7 850.7,409.2 850.6,411.4C850.5,413.6 848.2,419.4 847.5,421.6C846.8,423.8 845.2,429 844.4,430.2C843.6,431.3 841.3,430.9 840.5,431.7C839.6,432.5 837.8,436 837.3,437.2C836.9,438.4 836.7,441.1 836.2,441.9C835.8,442.6 833.8,442.8 833.4,443.4C833.1,444.1 833.2,446.2 833.4,447.3C833.7,448.5 835.1,452 835.8,453.6C836.5,455.1 838.7,458.8 839.7,460.6C840.7,462.4 843.5,467.6 844.4,469.2C845.3,470.9 846.9,473.5 847.5,474.7C848.1,475.9 849.2,478.8 849.4,479.4M606.5,487C606.4,487.9 606.6,492 605.8,494.5C604.9,497 601.2,504.8 599.5,508.2C597.8,511.8 591.9,520.9 590.8,524.5C589.6,528.1 589.9,536 589.5,539.5C589.1,543 587.6,552.4 587.5,554.5C587.4,556.6 588.2,557.1 588.2,557.5M729.5,487C729.6,488.8 730.5,498.2 730.8,502C731,505.8 731.7,515.4 732,519.5C732.3,523.6 732.4,534.1 733.2,537C734.1,539.9 738.2,542.5 739.5,544.5C740.8,546.5 743.3,551.9 744.5,554.5C745.7,557.1 748.2,564.8 749.5,567C750.8,569.2 754.8,570.9 755.8,573.2C756.7,575.6 757.1,584.7 757.5,587C757.9,589.3 758.6,591.7 759.5,593.2C760.4,594.8 764.4,598.5 765.2,600C766.1,601.5 767.1,605.1 767,606.5C766.9,607.9 764.4,611.4 764,612M798,569.5C797.4,570.4 794.2,575.2 793.2,577C792.3,578.8 790.7,582.5 789.5,584.5C788.3,586.5 784.9,592.6 783.2,594.5C781.6,596.4 777.5,599.3 775.8,600.8C774,602.2 769.6,605.7 768.2,607C766.9,608.3 764.9,611.4 764.5,612M798,569.5C798.6,567.8 802.1,557.1 803.2,555C804.4,552.9 806.6,552.4 808.2,551.2C809.9,550.1 815,546.6 817,545C819,543.4 824.3,540.1 825.8,537.5C827.2,534.9 828.7,526.3 829.5,522.5C830.3,518.7 831.3,507.5 832.5,505C833.7,502.5 837.6,502.3 839.5,501.2C841.4,500.2 847.9,496.8 849,496.2"/>
<path stroke="#000" stroke-width="1.3" d="M37,604.9C38,605.4 49.9,612 52,612.9C54.1,613.8 66.5,617.1 68.7,617.8C70.9,618.5 82.7,622.1 84.8,622.9C86.9,623.7 97.8,628.2 99.8,629.2C101.8,630.2 112.9,636.5 114.9,637.8C116.9,639 128.4,646.9 129.4,647.6M129.4,647.6L131.6,663M37,332.4L100,359.4 160,385.1 260,426.4 320,450.9 400,484.4 460,509 560,548.8 620,572.5 690,600.2 719.3,612.1 750,612.5 827,614.3 902,615.5 988,616.5"/>
</g>
<g font-size="11" fill="#6a6a6a" text-anchor="middle" clip-path="url(#mc)" style="opacity:0.999">
<text transform="translate(93.5 221.8) rotate(83)" y="3.7">1000</text>
<text transform="translate(671.6 140) rotate(87)" y="3.7">2000</text>
<text transform="translate(736 141) rotate(-91)" y="3.7">3000</text>
<text transform="translate(800.4 212.8) rotate(-75)" y="3.7">4000</text>
<text transform="translate(888.6 207.1) rotate(65)" y="3.7">3000</text>
<text transform="translate(771.7 428.2) rotate(-45)" y="3.7">3000</text>
<text transform="translate(969 327.4) rotate(-86)" y="3.7">4000</text>
<text transform="translate(184.6 505.2) rotate(51)" y="3.7">1000</text>
<text transform="translate(299.6 532.1) rotate(3)" y="3.7">2000</text>
<text transform="translate(535.7 611) rotate(-47)" y="3.7">3000</text>
<text transform="translate(571.3 638.3) rotate(76)" y="3.7">3000</text>
<text transform="translate(686.9 601.8) rotate(71)" y="3.7">4000</text>
</g>
<line x1="38.5" y1="120.5" x2="38.5" y2="605" stroke="#c6c6c6" stroke-width="1"/>
<g id="cbar">
<rect x="92.40" y="752.9" width="52.76" height="48.2" fill="#ffffff"/>
<rect x="144.86" y="752.9" width="52.76" height="48.2" fill="#04e9e7"/>
<rect x="197.32" y="752.9" width="52.76" height="48.2" fill="#679ef5"/>
<rect x="249.79" y="752.9" width="52.76" height="48.2" fill="#3333ff"/>
<rect x="302.25" y="752.9" width="52.76" height="48.2" fill="#00ff00"/>
<rect x="354.71" y="752.9" width="52.76" height="48.2" fill="#00c800"/>
<rect x="407.17" y="752.9" width="52.76" height="48.2" fill="#008000"/>
<rect x="459.64" y="752.9" width="52.76" height="48.2" fill="#ffff00"/>
<rect x="512.10" y="752.9" width="52.76" height="48.2" fill="#e7c000"/>
<rect x="564.56" y="752.9" width="52.76" height="48.2" fill="#ff9000"/>
<rect x="617.02" y="752.9" width="52.76" height="48.2" fill="#ff3000"/>
<rect x="669.49" y="752.9" width="52.76" height="48.2" fill="#c01800"/>
<rect x="721.95" y="752.9" width="52.76" height="48.2" fill="#800000"/>
<rect x="774.41" y="752.9" width="52.76" height="48.2" fill="#ff00ff"/>
<rect x="826.88" y="752.9" width="52.76" height="48.2" fill="#9955cc"/>
<rect x="879.34" y="752.9" width="52.46" height="48.2" fill="#d3d3d3"/>
</g>
<g id="labels" fill="#1a1a1a" style="opacity:0.999;font-kerning:none">
<text x="36.1" y="111.6" font-size="19.6">2025-12-17 11:00PM MST</text>
<text x="987.6" y="108.4" font-size="19.62" text-anchor="end">2025-12-18_06:00:00 Z</text>
<text x="512" y="106.6" font-size="24.0" text-anchor="middle">Total Precipitation (in)</text>
<text x="511.6" y="722.2" font-size="26.14" text-anchor="middle">U of A Dept of Hydrology and Atmospheric Sciences WRF-RRGFS 12Z</text>
<g font-size="20.7" text-anchor="middle">
<text x="144.8" y="831.3">0.01</text>
<text x="197.2" y="831.3">0.10</text>
<text x="249.7" y="831.3">0.25</text>
<text x="302.1" y="831.3">0.40</text>
<text x="354.6" y="831.3">0.7</text>
<text x="407.1" y="831.3">1.0</text>
<text x="459.5" y="831.3">1.25</text>
<text x="512.0" y="831.3">1.75</text>
<text x="564.5" y="831.3">2.5</text>
<text x="616.9" y="831.3">3.0</text>
<text x="669.4" y="831.3">4.0</text>
<text x="721.8" y="831.3">5.0</text>
<text x="774.3" y="831.3">6.0</text>
<text x="826.8" y="831.3">8.0</text>
<text x="879.2" y="831.3">10.0</text>
</g>
</g>
</svg>
</body></html>
